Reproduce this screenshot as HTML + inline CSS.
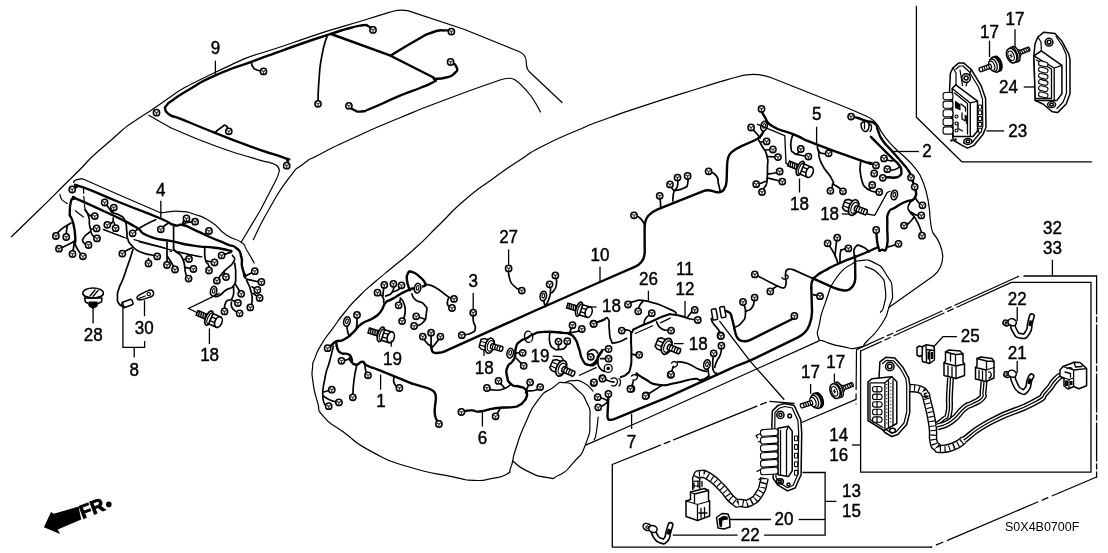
<!DOCTYPE html>
<html><head><meta charset="utf-8"><title>Wire Harness</title>
<style>
html,body{margin:0;padding:0;background:#fff;}
body{width:1108px;height:553px;overflow:hidden;font-family:"Liberation Sans",sans-serif;}
svg{display:block;}
.b{fill:none;stroke:#000;stroke-width:1.2;stroke-linecap:round;stroke-linejoin:round;}
.b2{fill:none;stroke:#000;stroke-width:1.3;stroke-linecap:round;stroke-linejoin:round;}
.h{fill:none;stroke:#000;stroke-width:2.4;stroke-linecap:round;stroke-linejoin:round;}
.m{fill:none;stroke:#000;stroke-width:2;stroke-linecap:round;stroke-linejoin:round;}
.w{fill:none;stroke:#000;stroke-width:1.7;stroke-linecap:round;stroke-linejoin:round;}
.l{fill:none;stroke:#000;stroke-width:1.3;}
.dd{fill:none;stroke:#000;stroke-width:1;stroke-dasharray:38 4 6 4;}
.f{fill:#fff;stroke:#000;stroke-width:1.1;stroke-linejoin:round;}
.fw{fill:#fff;stroke:#000;stroke-width:1.5;stroke-linejoin:round;}
.k{fill:#000;stroke:none;}
.t{filter:url(#gs);}
.t{font-family:"Liberation Sans",sans-serif;fill:#000;text-anchor:middle;stroke:#000;stroke-width:0.45px;}
</style></head><body>
<svg width="1108" height="553" viewBox="0 0 1108 553">
<defs><filter id="gs" x="0" y="0" width="1108" height="553" filterUnits="userSpaceOnUse" color-interpolation-filters="sRGB"><feOffset dx="0" dy="0"/></filter>
<g id="c"><circle r="3.15" fill="#fff" stroke="#000" stroke-width="1.5"/><path d="M0 0.3V2.7M0 0.3L-2.2 -1.4M0 0.3L2.2 -1.4" stroke="#333" stroke-width="1.15" fill="none"/></g>
<g id="bolt"><path d="M-19 -2.500L-9 -2.500L-9 2.500L-19 2.500Z" fill="#fff" stroke="#000" stroke-width="1.500"/><path d="M-17.500 -2.500L-16.500 2.500M-15.300 -2.500L-14.300 2.500M-13.100 -2.500L-12.100 2.500M-10.900 -2.500L-9.900 2.500" stroke="#000" stroke-width="1.400" fill="none"/><ellipse cx="-6.500" cy="0" rx="3.100" ry="7.400" fill="#fff" stroke="#000" stroke-width="1.700"/><ellipse cx="-5.300" cy="0" rx="2.300" ry="5.600" fill="#fff" stroke="#000" stroke-width="1.100"/><path d="M-4.500 -5.400L3.500 -5.400L3.500 5.400L-4.500 5.400Z" fill="#fff" stroke="#000" stroke-width="1.600"/><path d="M-4 -2L2 -2M-4 2L2 2" stroke="#000" stroke-width="1.300"/><ellipse cx="3.500" cy="0" rx="3.400" ry="5.400" fill="#fff" stroke="#000" stroke-width="1.600"/></g>
<g id="boltb"><path d="M-11 -3.500L-8.500 -5.200L-3 -5.200L-3 5.200L-8.500 5.200L-11 3.500Z" fill="#fff" stroke="#000" stroke-width="1.400"/><path d="M-10.500 -1.800L-3 -1.800M-10.500 1.800L-3 1.800" stroke="#000" stroke-width="1.100"/><ellipse cx="-1.500" cy="0" rx="4.200" ry="7.300" fill="#fff" stroke="#000" stroke-width="1.500"/><ellipse cx="-0.800" cy="0" rx="2.900" ry="5.200" fill="#fff" stroke="#000" stroke-width="1.100"/><path d="M0 -2.400L10.500 -2.400Q12 0 10.500 2.400L0 2.400Q-1.500 0 0 -2.400Z" fill="#fff" stroke="#000" stroke-width="1.300"/><path d="M1.800 -2.400Q0.600 0 1.800 2.400M4.100 -2.400Q2.900 0 4.100 2.400M6.400 -2.400Q5.200 0 6.400 2.400M8.700 -2.400Q7.500 0 8.700 2.400" stroke="#000" stroke-width="1.200" fill="none"/></g>
<g id="scr"><path d="M6 -2L17.500 -2Q18.800 0 17.500 2L6 2Z" fill="#fff" stroke="#000" stroke-width="1.300"/><path d="M9.500 -2L10.500 2M11.800 -2L12.800 2M14.100 -2L15.100 2M16.200 -2L17 2" stroke="#000" stroke-width="1.200"/><path d="M3 -6.500L8 -2.500L8 2.500L3 6.500Z" fill="#fff" stroke="#000" stroke-width="1.200"/><ellipse cx="3.200" cy="0" rx="3.300" ry="8" fill="#fff" stroke="#000" stroke-width="1.500"/><ellipse cx="1.200" cy="0" rx="3.300" ry="8" fill="#fff" stroke="#000" stroke-width="1.300"/><ellipse cx="-1.200" cy="0" rx="4.800" ry="7.600" fill="#fff" stroke="#000" stroke-width="1.600"/><ellipse cx="-1.800" cy="0" rx="2.800" ry="5" fill="#fff" stroke="#000" stroke-width="1"/><path d="M-3.300 -1.200L-0.500 1.200M-2.500 2L-1.200 -2" stroke="#000" stroke-width="1"/></g>
<g id="scrf"><ellipse cx="-3.800" cy="0" rx="4.500" ry="7.800" fill="#111" stroke="#000" stroke-width="1.400"/><ellipse cx="-1.500" cy="0" rx="4.500" ry="7.800" fill="#fff" stroke="#000" stroke-width="1.500"/><ellipse cx="0.500" cy="0" rx="3.800" ry="6.500" fill="#fff" stroke="#000" stroke-width="1.300"/><ellipse cx="2" cy="0" rx="2.800" ry="4.800" fill="#fff" stroke="#000" stroke-width="1.200"/><path d="M3 -2.100L14.500 -2.100Q16 0 14.500 2.100L3 2.100Q1.800 0 3 -2.100Z" fill="#fff" stroke="#000" stroke-width="1.300"/><path d="M5.200 -2.100Q4.200 0 5.200 2.100M7.500 -2.100Q6.500 0 7.500 2.100M9.800 -2.100Q8.800 0 9.800 2.100M12.100 -2.100Q11.100 0 12.100 2.100" stroke="#000" stroke-width="1.200" fill="none"/></g>
<g id="o"><ellipse rx="3.2" ry="4.9" fill="#fff" stroke="#000" stroke-width="1.5" transform="rotate(12)"/><ellipse rx="1.3" ry="2.4" cy="-0.3" fill="none" stroke="#000" stroke-width="1.1" transform="rotate(12)"/></g>
</defs>
<rect width="1108" height="553" fill="#fff"/>
<path class="b" d="M11.4 236.7 C20.9 227.5 19.3 229.2 40 209 C60.7 188.8 51.3 197.6 73.4 176 C95.5 154.4 81 165.8 106.3 144.3 C131.6 122.8 112.8 135.5 149.4 111.4 C186 87.3 168.5 94.8 216 72 C263.5 49.2 241.4 60.7 292 43 C342.6 25.3 334.1 29.6 367.8 19 C401.5 8.4 384.6 13.9 393 11.3 Q400 9.200 407.600 10.600 L463.300 29 L519.500 51.800 Q525.500 54.500 526.200 60.500 L526.600 66 Q527 70 531 73.300 L562 102.500"/>
<path class="b" d="M253.3 239.7 C258.4 229.8 256.9 230.3 268.6 210 C280.3 189.7 277 194 288.5 178.7 C300 163.4 292.5 172.3 303 164.2 C313.5 156.1 304.3 162.5 320 154.3 C335.7 146.1 323.3 151.7 350 139.5 C376.7 127.3 366.7 131.5 400 117.7 C433.3 103.9 416.7 110.6 450 98 C483.3 85.4 483.3 86 500 80 Q509 76.800 514.500 79.500 Q521 83.500 531 96 Q536.500 104 540.500 112"/>
<path class="b" d="M148.9 115.2 C154.3 118.3 154.6 119 165 124.5 C175.4 130 162.9 124.5 180 131.7 C197.1 138.9 192.1 137.5 216.2 146.2 C240.3 154.9 234.4 152.4 252.3 157.9 C270.2 163.4 264.1 161.1 270 162.7 Q279.500 165 279.300 171 Q278.500 175.500 275 182 L260.500 210 L241.300 242"/>
<path class="b" d="M73.500 182.500 Q74 180.300 77 179.700 L82.500 178.700 L120 195.300 L159.300 212.300 Q163 213 166.600 212"/>
<path class="b" d="M166.6 212 C171.1 211.8 171.1 210.6 180 211.3 C188.9 212 183.1 210.5 193.4 214 C203.7 217.5 199.9 214.8 210.8 221.7 C221.7 228.6 215.9 227.8 226 234.7 C236.1 241.6 234.3 237.2 241.2 242.3 C248.1 247.4 242.3 243.1 246.6 250 C250.9 256.9 251.7 258.7 254.2 263"/>
<path class="b" d="M59.9 194.4 C60.4 195.9 60 196.6 61.5 199 C63 201.4 62.5 200.1 64.4 201.6 C66.3 203.1 66.3 202.9 67.3 203.5"/>
<path class="b" d="M104 230 L127 238.5"/>
<path class="b" d="M139 242 L200 257"/>
<path class="b" d="M512.8 460.5 C512 463 512.7 463.3 510.5 467.9 C508.3 472.5 512.7 470.8 506.2 474.4 C499.7 478 501.9 476.7 491 478.7 C480.1 480.7 486.6 481 473.6 480.3 C460.6 479.6 473.6 481.1 451.9 476.6 C430.2 472.1 435.3 475.1 408.5 466.8 C381.7 458.5 393.3 463.2 371.6 451.6 C349.9 440 359.3 443.6 343.4 432 C327.5 420.4 332.6 427 323.9 416.9 C315.2 406.8 321 413.3 317.4 401.7 C313.8 390.1 314.6 393.2 313 382 C311.4 370.8 311.8 376 312.5 368 C313.2 360 311.8 366.1 315 357.9 C318.2 349.7 316.2 353.2 322 343.5 C327.8 333.8 324.7 339.4 332.4 328.9 C340.1 318.4 336 323 345 312 C354 301 349.2 306.3 359.5 296 C369.8 285.7 364.1 291.3 376 281 C387.9 270.7 381.7 276.4 395.3 265 C408.9 253.6 401.8 260.5 416.7 246.8 C431.6 233.1 424 239.6 440 224 C456 208.4 447.3 215 464.8 200 C482.3 185 474.1 192.3 492.5 179 C510.9 165.7 503.2 171 520 160 C536.8 149 523.7 156 543 146 C562.3 136 555.7 139.5 578 130 C600.3 120.5 587.9 125.6 610 117.5 C632.1 109.4 614.4 115.4 644.4 105.6 C674.4 95.8 669.8 97.4 700 88 C730.2 78.6 723.3 81 735 77.5 Q754 71 772 78 L850 109 L866 116 Q874 119.500 878 125.500 Q883 137 897.500 150.800 Q913 163.500 920 175 Q927.500 190 929.500 210 Q930.500 228 933 233 Q941.500 243 942.800 255.900 Q942.500 268 934 275.500 Q912 291 888.800 307.600"/>
<path class="b" d="M512.8 460.5 C513.9 456.4 511.8 460.6 516 448.2 C520.2 435.8 518.1 439.1 525.4 423.2 C532.7 407.3 528.8 412.2 537.8 400.4 C546.8 388.6 543.4 393.8 552.4 387.9 C561.4 382 556.6 382 564.9 382.7 C573.2 383.4 570.1 383.4 577.4 390 C584.7 396.6 582.5 392.7 586.7 402.4 C590.9 412.1 590.2 405.2 589.9 419.1 C589.6 433 591.3 429.4 585.7 444 C580.1 458.6 582.2 452.4 573.2 462.8 C564.2 473.2 567.6 470.5 558.6 475.3 C549.6 480.1 556.6 478.7 546.2 477.3 C535.8 475.9 538.4 476.4 527.4 471.1 C516.4 465.8 518 464.7 513.3 461.5"/>
<path class="b" d="M564.9 382.7 C567.7 382 567 380.6 573.2 380.6 C579.4 380.6 577 379.2 583.6 382.7 C590.2 386.2 589.9 388.2 593 391"/>
<path class="b" d="M598.2 417 C597.5 422.5 597.5 426 596.1 433.6 C594.7 441.2 594.7 437.8 594 439.9"/>
<path class="b" d="M585.7 445.1 L640 421.5 L819 340.9"/>
<path class="b" d="M853.5 262.9 C855.8 262.1 853.5 260.6 860.5 260.6 C867.5 260.6 866 258.2 874.6 262.9 C883.2 267.6 880.5 265.3 886.4 274.7 C892.3 284.1 891.5 280.1 892.3 291.1 C893.1 302.1 892.3 296.6 888.8 307.6 C885.3 318.6 888.8 313 881.7 324 C874.6 335 875.4 332.6 867.6 340.5 C859.8 348.4 866.8 345.6 858.2 347.6 C849.6 349.6 852.7 348.4 841.7 346.4 C830.7 344.4 833.1 344.8 825.3 341.7 C817.5 338.6 820.2 342.9 818.2 337 C816.2 331.1 817 335.4 819.4 324 C821.8 312.6 819.4 318.6 825.3 302.9 C831.2 287.2 827.6 290.3 837 277 C846.4 263.7 848 267.6 853.5 262.9"/>
<path class="b" d="M865.2 266.4 C869.9 269.2 872.6 267.2 879.3 274.7 C886 282.2 883.6 278.6 885.2 288.8 C886.8 299 885.6 297.4 884 305.2 C882.4 313 881.7 309.9 880.5 312.3"/>
<path class="h" d="M373 29.9 C371.3 28.6 371.4 27.5 368 26 C364.6 24.5 368.8 24.6 362.8 25.3 C356.8 26 360.9 25 350 28 C339.1 31 349.3 27.9 330 34.2 C310.7 40.5 317.3 38.1 292 47 C266.7 55.9 279.3 51.4 254 60.8 C228.7 70.2 237.3 65.8 216 75.2 C194.7 84.6 204.3 80.7 190 89 C175.7 97.3 180.8 94.5 173 100 C165.2 105.5 169.1 102.5 166.5 105.5 C163.9 108.5 165 106.4 165.3 108.9 C165.6 111.4 164.9 110.5 167.5 113 C170.1 115.5 168.8 114.6 173 116.5 C177.2 118.4 166.2 113.2 180 118.6 C193.8 124 190.3 123.1 214.4 132.6 C238.5 142.1 229.4 138.8 252.3 147.1 C275.2 155.4 271.4 153.1 283.1 157.4 C294.8 161.7 286.1 157.2 287.3 160 C288.5 162.8 286.9 163.8 286.7 165.7"/>
<path class="w" d="M251.4 62 C251.9 63.7 251.1 64.3 253 67 C254.9 69.7 253.5 68.5 257 70 C260.5 71.5 261.3 70.9 263.5 71.4"/>
<path class="w" d="M327.3 35.4 C325.5 41.9 324.8 40.1 322 55 C319.2 69.9 320.3 63.7 319 80 C317.7 96.3 318.3 95.9 318 103.8"/>
<path class="h" d="M331 34 L390.6 55.7 L433 77.2"/>
<path class="h" d="M390.6 55.7 C398.7 50.8 401.2 48.7 415 41 C428.8 33.3 422 36 432 32.5 C442 29 438.5 30.7 445 30.4 C451.5 30.1 449.3 31.2 451.4 31.6"/>
<path class="h" d="M433 77.2 C433.7 78.1 435 78.3 435 80 C435 81.7 438 79.6 433 82.3 C428 85 431 83.5 420 88 C409 92.5 416 89 400 95.7 C384 102.4 384.7 102.8 372 108 C359.3 113.2 368 110.7 362 111.4 C356 112.1 358.4 111.9 354 110 C349.6 108.1 350.6 107.2 348.9 105.8"/>
<path class="h" d="M434 79 C438 78.5 439.2 79.4 446 77.5 C452.8 75.6 450.9 76.9 454.4 73.4 C457.9 69.9 457.8 70.8 456.5 67 C455.2 63.2 452.6 63.7 450.6 62"/>
<path class="w" d="M214.8 132.5 C217.1 130.7 217.9 129.5 221.6 127.2 C225.3 124.9 223.6 124.3 226 125.7 C228.4 127.1 227.9 129.4 228.8 131.3"/>
<use href="#c" x="373" y="29.9"/>
<use href="#c" x="263.5" y="71.4"/>
<use href="#c" x="318" y="103.8"/>
<use href="#c" x="348.9" y="105.8"/>
<use href="#c" x="451.4" y="31.6"/>
<use href="#c" x="450.6" y="62"/>
<use href="#c" x="156.5" y="112.7"/>
<use href="#c" x="228.8" y="131.3"/>
<use href="#c" x="286.7" y="165.7"/>
<path class="h" d="M72.2 189.5 C73.5 188.7 72.8 188 76.2 187.2 C79.6 186.4 67.9 182.1 82.5 187.2 C97.1 192.3 94.4 192.2 120 202.5 C145.6 212.8 141.3 210.5 159.3 218 C177.3 225.5 166.1 222.7 173.9 225 C181.7 227.3 176.1 223.6 182.6 225 C189.1 226.4 184.7 225.5 193.4 229.3 C202.1 233.1 197.7 231.7 208.6 236.5 C219.5 241.3 216.7 239.9 226 243.8 C235.3 247.7 231.4 244 236.5 248.2 C241.6 252.4 239.3 250 241.2 256.4 C243.1 262.8 240.8 260.8 242.2 267.3 C243.6 273.8 244.4 273.1 245.5 276"/>
<path class="h" d="M69.8 215.2 C70.1 211 69.2 208 70.7 202.5 C72.2 197 71.7 199.5 74.4 198.6 C77.1 197.7 67 194.7 78.9 199.8 C90.8 204.9 91.6 205.3 110 214 C128.4 222.7 121.2 218.7 134 226 C146.8 233.3 135.9 230.9 148.5 236 C161.1 241.1 156.7 238 171.7 241.2 C186.7 244.4 179 243.4 193.4 245.6 C207.8 247.8 202.3 246 215 247.8 C227.7 249.6 225.9 249.9 231.4 251"/>
<path class="h" d="M69.8 215.2 C71 218.2 71.7 216.4 73.5 224.2 C75.3 232 75 232.7 75.3 238.7 C75.6 244.7 74.7 241.1 74.4 242.3"/>
<path class="w" d="M74.4 242.3 C74.1 244.2 74.1 244.1 73.5 248 C72.9 251.9 72.8 252 72.5 254"/>
<path class="w" d="M74.4 242.3 C75.6 244.9 75.2 245.3 78 250 C80.8 254.7 81.3 254.2 82.9 256.3"/>
<path class="w" d="M74.8 241 C71.6 242.7 70.6 243.4 65.3 246 C60 248.6 61.1 247.8 59 248.7"/>
<path class="w" d="M71 223 C67.6 225.2 65.8 225.4 60.8 229.7 C55.8 234 57.5 233.9 55.9 236"/>
<path class="w" d="M67.5 225.5 C67.2 227.3 66.9 227.2 66.5 231 C66.1 234.8 66.3 235 66.2 237"/>
<path class="b" stroke-dasharray="5 3" d="M83.4 188 C84 197 84 204 85.2 209.8"/>
<path class="b" d="M75.3 210.7 L83.4 217"/>
<path class="w" d="M85.2 209.8 C86.7 211.6 86.5 213.1 89.7 215.2 C92.9 217.3 93.1 215.8 94.8 216.1"/>
<path class="w" d="M85.2 209.8 C86.4 212.2 87.3 211.6 88.8 217 C90.3 222.4 88.6 222 89.7 226 C90.8 230 89.7 228.2 92 229 C94.3 229.8 95.1 228.6 96.6 228.4"/>
<path class="w" d="M90.6 229.7 C91.2 231.5 90.3 232.2 92.4 235.1 C94.5 238 95.5 237.3 97 238.4"/>
<path class="w" d="M90 232 C88.1 233.6 86.5 233.5 84.3 236.9 C82.1 240.3 82 239.6 83.4 242.3 C84.8 245 86.8 244.1 88.5 245"/>
<path class="w" d="M104.7 202.5 C106.3 204.6 107.1 205.6 109.6 208.9 C112.1 212.2 109 210.4 112.3 212.5 C115.6 214.6 115.4 212.5 119.6 215.2 C123.8 217.9 122.6 215.2 125 220.6 C127.4 226 125.9 225.5 126.8 231.5 C127.7 237.5 125.9 233.9 127.7 238.7 C129.5 243.5 127.7 241.5 132.2 246 C136.7 250.5 134.7 249.3 141.3 252.3 C147.9 255.3 146.7 253.6 152 255 C157.3 256.4 155.5 255.9 157.2 256.4"/>
<path class="w" d="M113.8 207.6 L112.3 212.5"/>
<path class="w" d="M113.2 218 C112.9 219.5 114.3 220.1 112.3 222.4 C110.3 224.7 109 224 107.3 224.8"/>
<path class="w" d="M114.1 222.4 L115.6 228.2"/>
<path class="w" d="M148.5 258.6 L148.5 263.5"/>
<path class="w" d="M132.2 247.8 C129.8 249 128.3 249.4 125 251.4 C121.7 253.4 123.2 252.9 122.3 253.7"/>
<path class="w" d="M133 249.6 C131.8 253.2 131.6 254.3 129.5 260.4 C127.4 266.5 129 261.8 126.8 268 C124.6 274.2 125.7 271.9 123 279 C120.3 286.1 120.4 283.4 118.6 289.4 C116.8 295.4 117.5 292.5 117.5 297 C117.5 301.5 116.8 299.8 118.5 303 C120.2 306.2 121.2 305.3 122.5 306.5"/>
<path class="w" d="M132.6 233.3 C135.5 231.2 133.6 231.5 141.3 227 C149 222.5 150.9 222.1 155.7 219.7"/>
<path class="w" d="M160.8 229.3 C162.7 227.6 163.5 226.2 166.6 224.2 C169.7 222.2 169 223.6 170.2 223.3"/>
<path class="w" d="M173.6 224.5 L173.6 246.7"/>
<path class="w" d="M173.6 246.7 C174.1 248.1 172 247 175 251 C178 255 179 251 182.6 258.6 C186.2 266.2 183.8 267.1 185.8 273.8 C187.8 280.5 187.7 277 188.6 278.6"/>
<path class="w" d="M167 242.3 L167 255.4 L167 265"/>
<path class="w" d="M167.4 256.5 C168.6 258.3 168.5 257.7 171 262 C173.5 266.3 173.7 267 175 269.5"/>
<path class="w" d="M183.6 259.7 L189 259"/>
<path class="w" d="M184.7 267.3 L193.4 269"/>
<path class="w" d="M204.7 247.8 C204.9 251.8 204.1 253.9 205.4 259.7 C206.7 265.5 207.4 261.5 208.6 265.1 C209.8 268.7 208.9 268.7 209 270.5"/>
<path class="w" d="M206 260.8 L214.5 262.5"/>
<path class="w" d="M221.6 255.4 L231.4 252.1"/>
<path class="w" d="M232.5 255.4 C232.9 257.6 236.5 256.5 233.6 261.9 C230.7 267.3 229.4 265.3 223.8 271.6 C218.2 277.9 219.2 277.7 216.9 280.7"/>
<path class="w" d="M223.8 271.6 L226 277"/>
<path class="w" d="M234.7 263 C235 267.3 236.1 268.4 235.7 276 C235.3 283.6 236.8 281 233.6 285.7 C230.4 290.4 230.7 286.7 226 290 C221.3 293.3 223.3 293.3 219.5 295.5 C215.7 297.7 216.2 296.2 214.5 296.5"/>
<path class="w" d="M233.6 286.8 C233.2 290.4 235 292.6 232.5 297.7 C230 302.8 228.7 297.4 226 302 C223.3 306.6 225 308.3 224.5 311.4"/>
<path class="w" d="M231.4 299.8 L237.9 303"/>
<path class="w" d="M231.4 302 C231.8 304.2 229.8 304.7 232.5 308.5 C235.2 312.3 237.2 311.7 239.6 313.3"/>
<path class="w" d="M235.7 284.6 L241.2 293.8"/>
<path class="w" d="M245.5 276 L254.8 271.2"/>
<path class="w" d="M243.5 273.5 C244.2 275 242.7 275.7 245.5 278 C248.3 280.3 246.7 279 252 280.3 C257.3 281.6 258.3 281.4 261.4 282"/>
<path class="w" d="M246.6 280.3 C248.1 283.9 249.2 284 251 291.2 C252.8 298.4 252.2 296.6 252 302 C251.8 307.4 250.9 305.6 250.3 307.4"/>
<path class="w" d="M252 286.8 L257.4 290"/>
<path class="w" d="M253.1 293.3 L259.6 298"/>
<path class="w" d="M186.5 218.5 C185.5 219.5 184.8 219.3 183.5 221.5 C182.2 223.7 182.9 223.8 182.6 225"/>
<path class="w" d="M195.1 221.7 C192.4 222 191.2 221.4 187 222.5 C182.8 223.6 184.1 224.2 182.6 225"/>
<path class="w" d="M209 231 C208.2 231.7 208.2 232 206.5 233 C204.8 234 204.8 233.7 204 234"/>
<path class="b" d="M103.3 229.3 L123.2 237"/>
<path class="b" d="M134 239.6 L164.8 247.8"/>
<path class="b" d="M169.5 251 L171.5 251.4"/>
<path class="b" d="M178.2 252.5 L202 256.9"/>
<path class="l" d="M219.5 293.3 L188.6 308.5 L200 314"/>
<use href="#c" x="72.2" y="189.5"/>
<use href="#c" x="104.7" y="202.5"/>
<use href="#c" x="113.8" y="207.6"/>
<use href="#c" x="94.8" y="216.1"/>
<use href="#c" x="107.3" y="224.8"/>
<use href="#c" x="115.6" y="228.2"/>
<use href="#c" x="96.6" y="228.4"/>
<use href="#c" x="97" y="238.4"/>
<use href="#c" x="88.5" y="245"/>
<use href="#c" x="55.9" y="236"/>
<use href="#c" x="66.2" y="237"/>
<use href="#c" x="59" y="248.7"/>
<use href="#c" x="72.5" y="254"/>
<use href="#c" x="82.9" y="256.3"/>
<use href="#c" x="132.6" y="233.3"/>
<use href="#c" x="160.8" y="229.3"/>
<use href="#c" x="186.5" y="218.5"/>
<use href="#c" x="195.1" y="221.7"/>
<use href="#c" x="209" y="231"/>
<use href="#c" x="122.3" y="253.7"/>
<use href="#c" x="157.2" y="256.4"/>
<use href="#c" x="148.5" y="263.5"/>
<use href="#c" x="167" y="265"/>
<use href="#c" x="175" y="269.5"/>
<use href="#c" x="189" y="259"/>
<use href="#c" x="193.4" y="269"/>
<use href="#c" x="188.6" y="278.6"/>
<use href="#c" x="221.6" y="255.4"/>
<use href="#c" x="214.5" y="262.5"/>
<use href="#c" x="209" y="270.5"/>
<use href="#c" x="226" y="277"/>
<use href="#c" x="216.9" y="280.7"/>
<use href="#c" x="254.8" y="271.2"/>
<use href="#c" x="261.4" y="282"/>
<use href="#c" x="257.4" y="290"/>
<use href="#c" x="259.6" y="298"/>
<use href="#c" x="250.3" y="307.4"/>
<use href="#c" x="241.2" y="293.8"/>
<use href="#c" x="237.9" y="303"/>
<use href="#c" x="239.6" y="313.3"/>
<use href="#c" x="224.5" y="311.4"/>
<use href="#o" x="213.6" y="291.2"/>
<path class="h" d="M417.6 287.3 C413.7 288.6 414.4 287.2 406 291.1 C397.6 295 399.2 295 392.4 298.9 C385.6 302.8 389.5 298.5 385.6 302.7 C381.7 306.9 385 306.2 380.8 311.4 C376.6 316.6 379.5 314 373 318.2 C366.5 322.4 367.8 319.5 361.4 324 C355 328.5 359.5 326.6 353.7 331.8 C347.9 337 349.8 336.3 344 339.5 C338.2 342.7 340.5 339.5 336.3 341.4 C332.1 343.3 334.4 343 331.5 345.3 C328.6 347.6 328.9 347.2 327.6 348.2"/>
<path class="w" d="M383.7 302.7 C383.4 300.8 384.8 300.2 382.7 296.9 C380.6 293.6 379.2 294.1 377.5 292.7"/>
<path class="w" d="M382.9 296 C383.1 294 383 293.7 383.5 290 C384 286.3 384 286.6 384.3 284.9"/>
<path class="w" d="M385.6 296 C387.9 294.7 389.8 296.1 392.4 292 C395 287.9 393.1 286.5 393.4 283.8"/>
<path class="w" d="M392.4 292 C394.4 291.2 395.5 291.7 398.5 289.5 C401.5 287.3 400.5 286.7 401.5 285.3"/>
<path class="w" d="M400.2 297.9 C401.5 299.8 402.4 298.5 404 303.7 C405.6 308.9 405.6 307.6 405 313.4 C404.4 319.2 403.1 318.5 402.1 321.1"/>
<path class="w" d="M400.2 299.8 L398.6 305.3"/>
<path class="h" d="M409.8 290.2 C408.9 287 407.6 286 407 280.5 C406.4 275 406.3 276.6 407.9 273.7 C409.5 270.8 407.9 270.8 411.8 271.8 C415.7 272.8 415 272.7 419.5 276.6 C424 280.5 424.1 280.1 425.3 283.4 C426.5 286.7 423.8 285.5 423 286.5"/>
<path class="w" d="M425.3 284.4 C428.5 285.4 427.3 283.1 435 287.3 C442.7 291.5 442.2 293 448.5 296.9 C454.8 300.8 452.2 298.2 454 298.9"/>
<path class="w" d="M448.5 298 C448.2 300.2 446.4 301.4 447.6 304.7 C448.8 308 450.5 306.9 452 308"/>
<path class="w" d="M411.8 294 C413.1 295.9 411.4 296.2 415.6 299.8 C419.8 303.4 420.8 300.2 424.4 304.7 C428 309.2 427 307.3 426.3 313.4 C425.6 319.5 426.5 318.8 422.4 323 C418.3 327.2 416.9 325 414.1 326"/>
<path class="w" d="M424.5 319 L416.2 316.3"/>
<path class="w" d="M346.9 325 C347.2 327.6 346.9 329 347.9 332.7 C348.9 336.4 349.3 334.9 350 336"/>
<path class="w" d="M357 318 C356.9 321 357.4 322.7 356.6 327 C355.8 331.3 355.2 329.7 354.5 331"/>
<use href="#o" x="346.9" y="321.5"/>
<use href="#o" x="417.6" y="288.2"/>
<path class="h" d="M336.3 341.4 C336.6 343.7 335.7 344.3 337.3 348.2 C338.9 352.1 337.6 351.1 341.1 353 C344.6 354.9 344.7 352.7 347.9 354 C351.1 355.3 349.4 354.6 350.8 356.9 C352.2 359.2 351.6 359.6 352 361"/>
<path class="w" d="M350.8 356.9 C349.5 357.9 350.1 358.5 347 359.8 C343.9 361.1 343.3 360.5 341.5 360.8"/>
<path class="h" d="M349.8 359.8 C351.7 361.4 351.4 364 355.6 364.7 C359.8 365.4 358.5 361.5 362.4 361.8 C366.3 362.1 361.1 362.6 367.3 365.6 C373.5 368.6 366.3 364.9 381 370.8 C395.7 376.7 401.3 379.2 411.5 383.4"/>
<path class="h" d="M411.5 383.4 L427.6 388.2 Q430.5 389 432.9 390.8 L433.5 391.2 Q436.5 393.5 435.7 400.5 L434.9 407.1 Q434 415 436.4 419.5 L438.9 424"/>
<path class="w" d="M333.4 346.3 C332.1 351.5 332.3 351.2 329.5 361.8 C326.7 372.4 327.2 365.7 325 378 C322.8 390.3 321.8 389.2 323 398.6 C324.2 408 326.8 403.7 328.7 406.2"/>
<path class="w" d="M323.5 392 L331.8 389.7"/>
<path class="w" d="M323.2 396 C325.5 397.3 324.8 397.9 330 400 C335.2 402.1 335.9 401.6 338.9 402.4"/>
<path class="w" d="M357 364.4 C356 369.6 355.4 369 354 380 C352.6 391 353.2 391.5 352.8 397.3"/>
<path class="w" d="M364.7 363 C365.1 366 364.9 367.9 366 372 C367.1 376.1 367.3 374.2 368 375.3"/>
<path class="w" d="M393.8 377.6 C394 379.7 392.6 380.5 394.5 384 C396.4 387.5 397.8 386.7 399.4 388"/>
<path class="w" d="M473.2 312.7 C473.3 315.6 472.7 316.2 473.4 321.3 C474.1 326.4 475.9 324.1 475.3 328 C474.7 331.9 476 330.5 471.5 332.9 C467 335.3 465 334.4 461.8 335.2"/>
<path class="w" d="M508.6 268.4 C508.9 271.6 507.7 272.1 509.5 278 C511.3 283.9 509.9 281.8 514 286 C518.1 290.2 519.2 289.1 521.8 290.6"/>
<path class="w" d="M422.8 336.6 C424 338.5 423.5 339.2 426.3 342.4 C429.1 345.6 429.5 345 431.1 346.3"/>
<path class="w" d="M431.1 332.7 L431.1 346.3"/>
<path class="w" d="M440.4 336.6 C438.6 339.2 438.1 340.4 435 344.3 C431.9 348.2 432.4 346.9 431.1 348.2"/>
<path class="h" d="M431.1 345 L431.6 349.2 Q432 353.5 437 353 L439 352.8 Q442 352.5 444.7 351.3 L535.4 310.5 Q540 308.5 544.6 306.5 L595.4 284 Q600 282 604.6 280 L634.7 266.9 Q644.8 262.5 644.7 251.5 L644.6 229 Q644.6 220 648.3 215.8 L648.3 215.8 Q652 211.5 657.6 209.3 L702.7 191.3 Q707.3 189.5 712.1 190.9 L715.2 191.8 Q721 193.5 723.8 189.8 L723.8 189.8 Q726.5 186 726.6 181 L727.1 165 Q727.3 156 731.6 152.2 L731.6 152.2 Q736 148.5 741.5 146.1 L754.3 140.5 Q758 138.9 760.7 136 L760.8 135.9 Q763.5 133 763.8 129.6 L764 126.2"/>
<path class="w" d="M543.3 299 C543.7 300.7 543.8 301.5 544.5 304 C545.2 306.5 545.2 305.7 545.5 306.5"/>
<path class="w" d="M549.6 284.3 C549.9 286.9 550.9 286.8 550.5 292 C550.1 297.2 550 295.7 548.5 300 C547 304.3 546.8 303.3 546 305"/>
<path class="w" d="M555.4 275.4 C555.8 278.3 557.1 278.8 556.5 284 C555.9 289.2 555.5 288 553.5 291 C551.5 294 551.5 292.3 550.5 293"/>
<use href="#o" x="543.3" y="296"/>
<path class="w" d="M634 215.3 C636 216.2 636.6 215.1 640 218 C643.4 220.9 642.8 222 644.2 224"/>
<path class="w" d="M659.7 195.8 C660 198.2 660.2 199.1 660.5 203 C660.8 206.9 660.5 206 660.5 207.5"/>
<path class="w" d="M670 184.4 C670.8 185.9 671 186.9 672.5 189 C674 191.1 673.8 190.2 674.4 190.8"/>
<path class="w" d="M677.5 177.6 C677.5 180.4 678.5 181.6 677.5 186 C676.5 190.4 675.9 187.1 674.4 190.8 C672.9 194.5 673.5 193.6 673 197 C672.5 200.4 673 199.7 673 201"/>
<path class="w" d="M687.6 176 C687.6 178.7 688.8 180 687.6 184 C686.4 188 688.4 185.7 684 188 C679.6 190.3 677.6 189.9 674.4 190.8"/>
<path class="w" d="M708.6 171.3 C711.1 172.7 712.9 171.4 716.2 175.6 C719.5 179.8 717.2 179 718.5 184 C719.8 189 719.5 188.3 720 190.5"/>
<path class="h" d="M461 412.1 C464.5 411.5 465 410.6 471.4 410.4 C477.8 410.2 472.1 412.2 480.1 411.5 C488.1 410.8 484.4 409.7 495.3 408.2 C506.2 406.7 504.6 408.2 512.7 407.1 C520.8 406 515.9 406.8 519.5 405 C523.1 403.2 521.2 404.2 523.5 401.7 C525.8 399.2 525.2 400.4 526.3 397.5 C527.4 394.6 527.4 395.9 526.8 393 C526.2 390.1 527.2 390.9 524.6 388.7 C522 386.5 523.4 388 518.9 386.5 C514.4 385 515.1 387.9 511.1 384.2 C507.1 380.5 508.1 381.3 506.9 375.5 C505.7 369.7 505.9 371.3 507.6 366.8 C509.3 362.3 509.6 365.5 512.1 361.9 C514.6 358.3 513.7 360.9 515 356.1 C516.3 351.3 514.4 352.2 516 347.4 C517.6 342.6 515.9 344.8 519.8 341.6 C523.7 338.4 523.4 340 527.6 337.7 C531.8 335.4 526.9 336.7 532.4 334.8 C537.9 332.9 533.7 332.5 544 331.9 C554.3 331.3 555 332.2 563.4 332.9 C571.8 333.6 565.3 332 569.2 333.9 C573.1 335.8 571.8 333.9 575 338.7 C578.2 343.5 576.3 341.3 578.9 348.4 C581.5 355.5 579.5 354.5 582.7 360 C585.9 365.5 584 363.8 588.5 364.8 C593 365.8 593.1 365.8 596.3 362.9 C599.5 360 596.3 360 598.2 356.1 C600.1 352.2 600.7 352.9 602 351.3"/>
<path class="w" d="M500 408.7 C499.2 410.1 499 410.5 497.5 413 C496 415.5 496.2 415.2 495.6 416.3"/>
<path class="w" d="M515.5 353 L522.7 352.8"/>
<path class="w" d="M516 358 C517.3 359.3 517.2 359.3 519.8 361.9 C522.4 364.5 522.4 364.5 523.7 365.8"/>
<path class="w" d="M511.1 384.2 C508.5 385.8 509.2 387.1 503.4 389 C497.6 390.9 499.2 390.3 493.7 390 C488.2 389.7 489.2 388.7 486.9 388"/>
<path class="w" d="M504.4 388 C503.1 386.4 502.5 385.6 500.5 383.2 C498.5 380.8 499.2 381.7 498.5 380.9"/>
<path class="w" d="M525.6 392.9 C526.3 391 526.1 390.6 527.6 387.1 C529.1 383.6 529.3 383.9 530.1 382.3"/>
<path class="w" d="M526.6 391 C529.8 390.7 531.8 391.3 536.3 390 C540.8 388.7 538.9 388.1 540.2 387.1"/>
<path class="w" d="M549.8 332.9 C549.8 336.1 548.5 337.4 549.8 342.6 C551.1 347.8 550.5 346.1 553.7 348.4 C556.9 350.7 555.6 349.7 559.5 349.4 C563.4 349.1 562.7 350.1 565.3 347.4 C567.9 344.7 566.6 343.3 567.3 341.2"/>
<path class="w" d="M558.5 348.4 L558.5 341.6"/>
<path class="w" d="M569.2 333.9 C569.8 332.3 570 331.9 571.1 329 C572.2 326.1 572 326.5 572.5 325.2"/>
<path class="w" d="M570.1 332.9 C573 332.3 575 332.3 578.9 331 C582.8 329.7 580.8 329.7 581.8 329"/>
<path class="w" d="M593.4 323.6 C595.6 322.9 596.1 322.9 600 321.5 C603.9 320.1 603.3 320.1 605 319.4"/>
<use href="#o" x="510.2" y="353.2"/>
<path class="b2" d="M530 331.500c-3.500-1.500-5.500 1-5.500 5s2.500 7 5.500 5.500M531 333c2 1 2.500 6 0.500 8"/>
<path class="w" d="M602 351.3 C600.2 354.1 600.3 355.3 596.6 359.7 C592.9 364.1 594.7 363.2 590.8 364.5 C586.9 365.8 586.9 363.8 585 363.5"/>
<path class="w" d="M597.6 352.9 C596.6 351.9 597.2 350.8 594.7 350 C592.2 349.2 592.4 349 590 350.5 C587.6 352 587.2 352.4 587.5 354.5 C587.8 356.6 589.7 356 590.8 356.8"/>
<path class="w" d="M597.6 361.6 C598.2 363.5 597.2 364.2 599.5 367.4 C601.8 370.6 601.5 371 604.4 371.3 C607.3 371.6 606.9 369.4 608.2 368.4"/>
<path class="w" d="M601.5 350 L608.6 349"/>
<path class="w" d="M600.5 358.7 L608.6 358.7"/>
<path class="l" d="M596.6 367.4 L578.9 375.5"/>
<circle cx="608.2" cy="368.4" r="4" fill="#fff" stroke="#000" stroke-width="1.3"/><circle cx="608.2" cy="368.4" r="1.8" fill="#000"/>
<path class="w" d="M602.4 378.1 C604.6 379.1 605.1 379.7 609 381 C612.9 382.3 612.3 381.7 614 382"/>
<path class="b2" d="M611 379c3-2 6.500-1 6.500 2.500s-3 5.500-6 4M619 378.500c2 1 2 6 0 7.500"/>
<path class="w" d="M628 304.5 C629.8 303.5 627.1 302.7 633.4 301.6 C639.7 300.5 634.6 298.6 646.9 301.2 C659.2 303.8 660.5 305.1 670.2 309.4 C679.9 313.7 674.1 312.6 676 314.2"/>
<path class="w" d="M643 301 C641.7 302.8 640.8 303.1 639.2 306.5 C637.6 309.9 638.5 309.7 638.2 311.3"/>
<path class="m" d="M684.7 317.1 C681.1 316.3 680.1 315.4 674 314.8 C667.9 314.2 673.4 313.1 666.3 315.2 C659.2 317.3 662.4 316.8 652.7 321 C643 325.2 644.1 324.2 637.3 327.7 C630.5 331.2 634.5 328 632.4 331.6 C630.3 335.2 631.4 331 631.1 338.4 C630.8 345.8 631.6 344.2 631.4 353.9 C631.2 363.6 632.1 360.6 630.5 367.4 C628.9 374.2 629.8 371 626.6 374.2 C623.4 377.4 622.7 376.1 620.8 377.1"/>
<path class="w" d="M684.7 317.1 C686.6 317.7 686.1 318 690.5 319 C694.9 320 695.4 319.7 697.8 320"/>
<path class="w" d="M687.6 317.1 C688.9 315.5 689 314.7 691.4 312.3 C693.8 309.9 693.6 310.7 694.7 309.9"/>
<path class="w" d="M644 323.9 C644.7 322 643.4 321.7 646 318.1 C648.6 314.5 649.9 314.8 651.8 313.2"/>
<path class="w" d="M656.6 322 C658.2 324.2 656.7 325.8 661.5 328.7 C666.3 331.6 667.9 330 671.1 330.6"/>
<path class="b" d="M635.3 333.5 L652.7 325.8"/>
<path class="b" d="M660.5 322.9 L670.2 318.1"/>
<path class="w" d="M621.8 330.6 C624 330.5 625.3 329.3 628.5 330.3 C631.7 331.3 630.4 332.4 631.4 333.5"/>
<path class="w" d="M593.7 323.9 C596.6 322.6 597.6 321.6 602.4 320 C607.2 318.4 605.9 316.1 608.2 319 C610.5 321.9 608.2 321.6 609.2 328.7 C610.2 335.8 608.8 335.7 611.1 340.3 C613.4 344.9 610.8 343.2 616 342.6 C621.2 342 623.1 339.8 626.6 338.4"/>
<path class="w" d="M631.4 353.9 C632.6 354.2 632.4 354.5 635 354.8 C637.6 355.1 637.8 354.8 639.2 354.8"/>
<path class="b2" d="M631.500 376c2-2 5.500-1.500 6 0.500s-2 4-4.500 3.500"/>
<path class="w" d="M631.4 388.7 C631.8 387.1 631.9 386.6 632.5 384 C633.1 381.4 633 382 633.3 381"/>
<path class="m" d="M636.3 373.2 C639.2 375.1 637.6 375.1 645 379 C652.4 382.9 648.2 383.5 658.5 384.8 C668.8 386.1 664.4 384.8 676 382.9 C687.6 381 685 380 693.4 379 C701.8 378 695.9 381 701.1 380 C706.3 379 706.3 377.4 708.9 376.1"/>
<path class="w" d="M646 395.5 C649.5 393.2 651.3 392 656.6 388.7 C661.9 385.4 660.2 386.6 662 385.5"/>
<path class="w" d="M670.7 374.8 C671.3 372.9 671.6 371.8 672.5 369 C673.4 366.2 673.2 367.3 673.5 366.5"/>
<path class="b2" d="M671.500 363c2-2 5.500-1.500 6 0.500s-2 4-4.500 3.500"/>
<path class="w" d="M677.9 361.6 C681.1 362.2 680.5 360.9 687.6 363.5 C694.7 366.1 692.8 366.8 699.2 369.4 C705.6 372 704.3 370.7 706.9 371.3"/>
<path class="w" d="M713.7 353.3 C713.4 356.7 712.7 357.5 712.7 363.5 C712.7 369.5 712.4 368.1 713.7 371.3 C715 374.5 715.6 372.6 716.6 373.2"/>
<path class="w" d="M721.4 345.7 C721.1 348.4 722.1 348.6 720.5 353.9 C718.9 359.2 718.5 357.1 716.6 361.6 C714.7 366.1 715.3 365.5 714.7 367.4"/>
<path class="w" d="M708.9 376.1 C708.6 374.1 708.7 372.7 708 370 C707.3 367.3 707.3 368.7 706.9 368"/>
<use href="#o" x="706.9" y="364.5"/>
<path class="h" d="M608.4 396 L607.5 415.5 Q607.3 419.5 609.6 419.8 L609.6 419.8 Q612 420 614.8 418.9 L635.4 410.4 Q640 408.5 644.6 406.6 L663.6 398.9 Q668.2 397 672.7 394.9 L730.5 368.6 Q735 366.5 739.7 364.7 L745.6 362.3 Q750.3 360.5 754.8 358.3 L797.9 337.4 Q806 333.5 809.1 325.8 L809.3 325.4 Q812.3 318 812 310 L811.3 287.9"/>
<path class="w" d="M597.7 397.2 C599.5 397.6 599.6 397.2 603 398.5 C606.4 399.8 606.2 400.2 607.8 401"/>
<path class="w" d="M598.2 407.3 C599.8 406.7 599.9 407.3 603 405.5 C606.1 403.7 606.1 403.2 607.6 402"/>
<rect x="-2.4" y="-5.500" width="4.800" height="11" rx="1" class="fw" transform="translate(714.500 314.400) rotate(-10)"/>
<rect x="-2.4" y="-5.500" width="4.800" height="11" rx="1" class="fw" transform="translate(722.800 312.100) rotate(-10)"/>
<path class="w" d="M711.3 318.5 C711.9 320 710.9 319.7 713 323 C715.1 326.3 715.1 325.2 717.5 328.5 C719.9 331.8 719.4 331.5 720.3 333"/>
<path class="l" d="M719.4 320.8 L750.3 361.4 L784.3 399.7"/>
<path class="h" d="M726.1 311.1 L728.3 311.8 Q730.5 312.5 731.3 315.4 L732.2 319.2 Q733.5 324 734.5 328.9 L735.3 332.7 Q736.8 339.5 741.4 340.8 L741.4 340.8 Q746 342 750.5 339.8 L794.4 318"/>
<path class="w" d="M733.9 327.6 C736.5 326 737.7 327.6 741.6 322.7 C745.5 317.8 745 319.9 745.5 313 C746 306.1 743.8 305.7 743 302"/>
<path class="w" d="M746.5 311 C748.4 309.8 749.6 311.8 752.3 307.3 C755 302.8 753.8 300.8 754.6 297.6"/>
<use href="#c" x="377.5" y="292.7"/>
<use href="#c" x="384.3" y="284.9"/>
<use href="#c" x="393.4" y="283.8"/>
<use href="#c" x="401.5" y="285.3"/>
<use href="#c" x="398.6" y="305.3"/>
<use href="#c" x="402.1" y="321.1"/>
<use href="#c" x="416.2" y="316.3"/>
<use href="#c" x="414.1" y="326"/>
<use href="#c" x="454" y="298.9"/>
<use href="#c" x="452" y="308"/>
<use href="#c" x="357" y="314.9"/>
<use href="#c" x="327.6" y="348.2"/>
<use href="#c" x="341.5" y="360.8"/>
<use href="#c" x="368" y="375.3"/>
<use href="#c" x="399.4" y="388"/>
<use href="#c" x="331.8" y="389.7"/>
<use href="#c" x="352.8" y="397.3"/>
<use href="#c" x="338.9" y="402.4"/>
<use href="#c" x="328.7" y="406.2"/>
<use href="#c" x="438.9" y="424"/>
<use href="#c" x="473.2" y="312.7"/>
<use href="#c" x="461.8" y="335.2"/>
<use href="#c" x="508.6" y="268.4"/>
<use href="#c" x="521.8" y="290.6"/>
<use href="#c" x="422.8" y="336.6"/>
<use href="#c" x="431.1" y="332.7"/>
<use href="#c" x="440.4" y="336.6"/>
<use href="#c" x="549.6" y="284.3"/>
<use href="#c" x="555.4" y="275.4"/>
<use href="#c" x="634" y="215.3"/>
<use href="#c" x="659.7" y="195.8"/>
<use href="#c" x="670" y="184.4"/>
<use href="#c" x="677.5" y="177.6"/>
<use href="#c" x="687.6" y="176"/>
<use href="#c" x="708.6" y="171.3"/>
<use href="#c" x="461.4" y="412"/>
<use href="#c" x="495.6" y="416.3"/>
<use href="#c" x="522.7" y="352.8"/>
<use href="#c" x="523.7" y="365.8"/>
<use href="#c" x="486.9" y="388"/>
<use href="#c" x="498.5" y="380.9"/>
<use href="#c" x="530.1" y="382.3"/>
<use href="#c" x="540.2" y="387.1"/>
<use href="#c" x="558.5" y="341.6"/>
<use href="#c" x="567.3" y="341.2"/>
<use href="#c" x="572.5" y="325.2"/>
<use href="#c" x="581.8" y="329"/>
<use href="#c" x="593.4" y="323.6"/>
<use href="#c" x="590.8" y="356.8"/>
<use href="#c" x="608.6" y="349"/>
<use href="#c" x="608.6" y="358.7"/>
<use href="#c" x="602.4" y="378.1"/>
<use href="#c" x="593.7" y="382.9"/>
<use href="#c" x="628" y="304.5"/>
<use href="#c" x="638.2" y="311.3"/>
<use href="#c" x="651.8" y="313.2"/>
<use href="#c" x="671.1" y="330.6"/>
<use href="#c" x="694.7" y="309.9"/>
<use href="#c" x="697.8" y="320"/>
<use href="#c" x="621.8" y="330.6"/>
<use href="#c" x="593.7" y="323.9"/>
<use href="#c" x="639.2" y="354.8"/>
<use href="#c" x="631.4" y="388.7"/>
<use href="#c" x="646" y="395.5"/>
<use href="#c" x="670.7" y="374.8"/>
<use href="#c" x="671" y="374.4"/>
<use href="#c" x="713.7" y="353.3"/>
<use href="#c" x="721.4" y="345.7"/>
<use href="#c" x="720.5" y="335.5"/>
<use href="#c" x="608.4" y="394"/>
<use href="#c" x="597.7" y="397.2"/>
<use href="#c" x="598.2" y="407.3"/>
<use href="#c" x="602.5" y="378.7"/>
<use href="#c" x="594" y="382.5"/>
<use href="#c" x="630.4" y="388.9"/>
<use href="#c" x="645.6" y="396"/>
<use href="#c" x="743" y="302"/>
<use href="#c" x="754.6" y="297.6"/>
<use href="#c" x="794.4" y="316"/>
<use href="#c" x="720.9" y="335.9"/>
<use href="#bolt" transform="translate(215.1 320.6) rotate(23.4) scale(1.031)"/>
<use href="#bolt" transform="translate(387.3 336.3) rotate(17.3) scale(1.023)"/>
<use href="#boltb" transform="translate(491.3 346.1) rotate(14.7) scale(1.057)"/>
<use href="#boltb" transform="translate(562.8 369.0) rotate(24.2) scale(1.140)"/>
<use href="#bolt" transform="translate(585.3 311.1) rotate(17.2) scale(0.994)"/>
<use href="#boltb" transform="translate(668.3 347.0) rotate(21.6) scale(1.147)"/>
<path class="w" d="M758 138.9 C759.3 141.3 759 140.4 762 146 C765 151.6 765.2 148.5 767 155.8 C768.8 163.1 767.5 159.6 767.5 168 C767.5 176.4 767.7 175 767 181 C766.3 187 766 184.3 765.5 186"/>
<path class="w" d="M761 142 L766.6 141.4"/>
<path class="w" d="M764.5 150 L772.9 149.5"/>
<path class="w" d="M767 156.5 L778 157.1"/>
<path class="w" d="M767.3 174 C769.9 173.7 770.9 173.8 775 173 C779.1 172.2 778.1 172 779.7 171.5"/>
<path class="w" d="M767 178 C770 178.7 770.9 178.8 776 180 C781.1 181.2 780.2 181.1 782.3 181.6"/>
<path class="w" d="M767 181 C764.7 181.8 763.6 182.4 760 183.5 C756.4 184.6 757.5 184 756.2 184.2"/>
<path class="w" d="M765.5 186 C764.7 187.2 764.2 187.5 763 189.5 C761.8 191.5 762.3 191.2 762 192"/>
<path class="w" d="M751.1 127.5 C753.1 129.7 754 130.5 757 134 C760 137.5 759 136.7 760 138"/>
<use href="#o" x="764" y="126.2"/>
<path class="h" d="M761.5 108.9 C762.5 111.5 760.6 110.7 764.6 116.6 C768.6 122.5 763.7 120.8 773.4 126.7 C783.1 132.6 779.3 128.4 793.7 134.3 C808.1 140.2 793.7 135.5 816.5 144.4 C839.3 153.3 844.2 154.7 862 160.9 C879.8 167.1 865.3 161.5 870 163 C874.7 164.5 874 164.6 876 165.4"/>
<path class="w" d="M793.7 134.3 C793 135.9 792.4 134.4 791.5 139 C790.6 143.6 790.2 143.5 791 148.2 C791.8 152.9 791 150.7 794 153 C797 155.3 795.2 153.8 800 155 C804.8 156.2 805.6 156.1 808.4 156.6"/>
<path class="w" d="M797 154 C797.8 153.2 798.2 153.2 799.5 151.5 C800.8 149.8 800.4 149.8 800.8 149"/>
<path class="w" d="M817.5 145 C817.8 147 816.7 148.2 818.5 151 C820.3 153.8 819.6 152.7 823 153.5 C826.4 154.3 826.7 153.4 828.6 153.3"/>
<path class="w" d="M818.5 150 C819.5 154.5 817.1 153.9 821.5 163.4 C825.9 172.9 827.9 171.4 831.6 178.6 C835.3 185.8 832.9 180.9 832.5 185 C832.1 189.1 831.1 188.9 830.4 190.8"/>
<path class="w" d="M832.5 184 C834.3 185 834.5 184.6 838 187 C841.5 189.4 841.3 189.9 843 191.3"/>
<path class="w" d="M860.8 160.5 C860.8 165.7 858.7 166.6 860.8 176 C862.9 185.4 863.2 185.7 867 188.7 C870.8 191.7 870.5 186.2 872.2 185"/>
<path class="w" d="M867 188.7 C869 189.6 868.9 190.4 873 191.5 C877.1 192.6 877.1 191.8 879.2 192"/>
<path class="l" d="M757 124.2 L784.8 135.6 L786 163.4 L790 165.5"/>
<path class="h" d="M851.1 116.6 C853.4 117.1 853 116.5 858 118 C863 119.5 860.4 119.2 866 121 C871.6 122.8 870.7 120.3 874.7 123.5 C878.7 126.7 875.6 125.2 878 130.5 C880.4 135.8 877.7 133 882 139.5 C886.3 146 884.5 142.5 891 150 C897.5 157.5 895.5 154.8 901.5 162 C907.5 169.2 905.5 165.8 909 171.5 C912.5 177.2 910.1 173.8 912 179 C913.9 184.2 913.8 184.3 914.7 187"/>
<path class="h" d="M870.9 136.8 C873.9 139.9 872.8 138.8 880 146 C887.2 153.2 886.1 152.1 892.4 158.4 C898.7 164.7 896 160.8 899 165 C902 169.2 901 167.5 901.3 171 C901.6 174.5 902.1 173.3 900 175.5 C897.9 177.7 899 176.9 895 177.5 C891 178.1 892.1 177.2 888 177.3 C883.9 177.4 884.5 177.6 882.8 177.8"/>
<path class="w" d="M884 158.4 C885.7 159.1 885.7 159.8 889 160.5 C892.3 161.2 892.3 160.5 894 160.5"/>
<path class="w" d="M887.3 169.2 C889.2 169.5 889.1 170.6 893 170 C896.9 169.4 897 168.3 899 167.5"/>
<path class="fw" d="M861 124.500c0-3 6-4 7.500-1.500s0 8-2.500 8.500s-5-3-5-7z"/>
<path class="b2" d="M864.500 122v6.500M869 124c3 0 3.500 5 1 7.500"/>
<path class="h" d="M914.7 186.7 C914.8 190.4 918.2 192.6 915 197.7 C911.8 202.8 911.8 198.6 905 202 C898.2 205.4 900.2 204.1 894.7 207.8 C889.2 211.5 890.9 207.3 888.4 213 C885.9 218.7 887.8 214.1 887.3 225 C886.8 235.9 888.8 237.6 887 245.8 C885.2 254 884.9 249.2 882 249.6 C879.1 250 880.1 253.5 878.2 247 C876.3 240.5 876.9 235.7 876.2 230"/>
<path class="w" d="M915 197.7 C912.9 200.2 910.3 200.5 908.6 205.3 C906.9 210.1 907.9 207.8 910 212 C912.1 216.2 911.7 212.7 915 218 C918.3 223.3 917.7 222.1 920 228 C922.3 233.9 921.3 233.1 922 235.7"/>
<path class="w" d="M914 217 C912.3 219 912.3 220.1 909 223 C905.7 225.9 905.7 224.7 904 225.6"/>
<path class="w" d="M916 199 C917 200.3 916.8 200.9 919 203 C921.2 205.1 921.3 204.5 922.5 205.3"/>
<path class="w" d="M911 212 C912.7 213 912.6 213.9 916 215 C919.4 216.1 919.5 215.3 921.3 215.4"/>
<path class="w" d="M887.5 247 C889.3 246.5 889.3 246.6 893 245.5 C896.7 244.4 896.7 244.4 898.5 243.8"/>
<path class="h" d="M878.2 247 C872.1 249.7 873.1 249.5 860 255 C846.9 260.5 850.7 258.3 839 263.5 C827.3 268.7 832.6 266.3 825 270.5 C817.4 274.7 820.4 272.7 816.2 276.2 C812 279.7 813.9 277.1 812.3 281 C810.7 284.9 811.6 285.6 811.3 287.9"/>
<path class="w" d="M854.2 256.5 C854.6 253.3 852.5 250.2 855.4 247 C858.3 243.8 858.5 245.3 863 247 C867.5 248.7 867 250.3 869 252"/>
<path class="h" d="M855 256 L855.3 277 Q855.4 283 852.2 287 L852.1 287.1 Q849 291 844 290.5 L844 290.5 Q839 290 833.5 287.6 L812.3 278.2"/>
<path class="w" d="M838 263.5 C836.7 260.1 837.5 260.1 834 253.4 C830.5 246.7 829.7 246.7 827.6 243.3"/>
<path class="w" d="M835 256 C835.3 252.7 835.3 252.1 836 246 C836.7 239.9 836.8 240.5 837.2 237.7"/>
<path class="w" d="M840 262.5 C840.2 259 839.5 256.3 840.5 252 C841.5 247.7 840.4 250.7 843 249.5 C845.6 248.3 846.6 248.8 848.4 248.4"/>
<use href="#o" x="894.3" y="195"/>
<path class="w" d="M813.2 294.7 L820 296.2"/>
<path class="w" d="M754.8 274.4 L773.8 284.2 Q777.4 286 781 287.5 L781 287.5 Q784.5 289 785.5 286 L785.5 286 Q786.5 283 785.9 279.6 L785.8 279.2 Q785.2 276.3 785.6 273.3 L785.7 272.5 Q786.1 269.5 788.5 269.1 L788.5 269.1 Q791 268.7 793.7 269.9 L812.3 278.2"/>
<path class="w" d="M770.3 291.4 C771.5 290.3 771.6 289.8 774 288 C776.4 286.2 776.3 286.7 777.4 286"/>
<path class="b2" d="M782 277.500c1 2.500 5 2.500 6 0.500s-1-3.500-2.500-3"/>
<path class="l" d="M867 214 L874.7 215.3 L887.3 192.5 L890.5 191"/>
<use href="#c" x="751.1" y="127.5"/>
<use href="#c" x="766.6" y="141.4"/>
<use href="#c" x="772.9" y="149.5"/>
<use href="#c" x="778" y="157.1"/>
<use href="#c" x="779.7" y="171.5"/>
<use href="#c" x="782.3" y="181.6"/>
<use href="#c" x="756.2" y="184.2"/>
<use href="#c" x="762" y="192"/>
<use href="#c" x="851.1" y="116.6"/>
<use href="#c" x="761.5" y="108.9"/>
<use href="#c" x="800.8" y="149"/>
<use href="#c" x="808.4" y="156.6"/>
<use href="#c" x="828.6" y="153.3"/>
<use href="#c" x="830.4" y="190.8"/>
<use href="#c" x="843" y="191.3"/>
<use href="#c" x="872.2" y="185"/>
<use href="#c" x="879.2" y="192"/>
<use href="#c" x="876" y="165.4"/>
<use href="#c" x="884" y="158.4"/>
<use href="#c" x="887.3" y="169.2"/>
<use href="#c" x="874.2" y="173.5"/>
<use href="#c" x="882.8" y="177.8"/>
<use href="#c" x="914.7" y="186.8"/>
<use href="#c" x="911" y="177.6"/>
<use href="#c" x="922.5" y="205.3"/>
<use href="#c" x="921.3" y="215.4"/>
<use href="#c" x="922" y="235.7"/>
<use href="#c" x="904" y="225.6"/>
<use href="#c" x="898.5" y="243.8"/>
<use href="#c" x="876.2" y="230"/>
<use href="#c" x="837.2" y="237.7"/>
<use href="#c" x="827.6" y="243.3"/>
<use href="#c" x="848.4" y="248.4"/>
<use href="#c" x="820" y="296.2"/>
<use href="#c" x="754.8" y="274.4"/>
<use href="#c" x="770.3" y="291.4"/>
<use href="#bolt" transform="translate(806.3 170.8) rotate(22.7) scale(1.009)"/>
<use href="#boltb" transform="translate(855.3 208.2) rotate(20.5) scale(1.119)"/>
<path class="b2" d="M916.4 6.5 L916.4 117.2 L961.8 161.8 L1091.4 161.8"/>
<path class="fw" stroke-width="1.800" d="M1037.900 37L1043.900 32.200L1055 33.600L1062 41.300L1068.800 54.200L1070 59.400L1070 93.700L1066.200 104L1057.600 112.600L1052.500 111.800L1043 104L1035.300 100.600L1033.900 55.900L1035 43.900Z"/>
<path class="b" d="M1056 36.500L1062.500 46L1066.300 55L1066.500 93L1063.200 102L1057 108.500M1037.900 37L1041 42L1041.300 50.800"/>
<circle cx="1049" cy="42.200" r="3.900" class="fw" stroke-width="1.400"/><circle cx="1049" cy="42.200" r="1.900" class="fw"/>
<ellipse cx="1051.600" cy="104.600" rx="4" ry="3" class="fw" stroke-width="1.400"/><ellipse cx="1051.600" cy="104.600" rx="1.900" ry="1.400" class="fw"/>
<path class="fw" stroke-width="1.700" d="M1033.900 55.900L1041.300 50.800L1061.900 65.400L1061.900 93.700L1056.800 100.600L1035.300 100.600Z"/>
<path class="b2" d="M1033.900 55.900L1054.200 68L1054.200 100.600M1054.200 68L1061.900 65.400M1036.500 60L1051.500 69L1051.500 98.500L1036.500 98.500"/>
<rect x="1038.5" y="61.5" width="9.5" height="4.600" rx="2.200" class="f" stroke-width="1.400" transform="rotate(14 1043 63.8)"/>
<rect x="1038.5" y="67.7" width="9.5" height="4.600" rx="2.200" class="f" stroke-width="1.400" transform="rotate(14 1043 70.0)"/>
<rect x="1038.5" y="73.9" width="9.5" height="4.600" rx="2.200" class="f" stroke-width="1.400" transform="rotate(14 1043 76.2)"/>
<rect x="1038.5" y="80.1" width="9.5" height="4.600" rx="2.200" class="f" stroke-width="1.400" transform="rotate(14 1043 82.4)"/>
<rect x="1038.5" y="86.3" width="9.5" height="4.600" rx="2.200" class="f" stroke-width="1.400" transform="rotate(14 1043 88.6)"/>
<rect x="1038.5" y="92.5" width="9.5" height="4.600" rx="2.200" class="f" stroke-width="1.400" transform="rotate(14 1043 94.8)"/>
<path class="fw" stroke-width="1.800" d="M953.100 67.700L958.500 63.100L963.900 63.100L971.200 69.500L981.100 85.700L985.600 98.400L986 127.300L982.900 134.600L973.900 145.400L967.500 148.100L962.100 145.400L953.100 140L949.500 91.200L950.400 73.100Z"/>
<path class="b" d="M956 69L959.500 66L963 66L969 71.500L978.500 87L982.500 99L982.800 126.500L980 133L972 142.500L967.500 144.800L963.500 143M953.100 67.700L956 73L956 85M960 70L962.500 85.500M971.200 69.500L966 86"/>
<circle cx="966.100" cy="78.100" r="4.300" class="fw" stroke-width="1.400"/><circle cx="966.100" cy="78.100" r="2" class="fw"/>
<ellipse cx="967.900" cy="141.400" rx="4" ry="3" class="fw" stroke-width="1.400"/><ellipse cx="967.900" cy="141.400" rx="1.800" ry="1.300" class="fw"/>
<path class="fw" stroke-width="1.700" d="M952.200 88.500L955.800 84.800L977.500 101.100L977.500 131L973 136.400L953.100 136.400Z"/>
<path class="b2" d="M952.200 88.500L970.300 102.900L970.300 136.400M970.300 102.900L977.500 101.100M954.500 93L967.500 103.500L967.500 134"/>
<path class="k" d="M955 100.500L960.500 104.500L960.500 110.500L955 108Z"/>
<path class="b2" d="M961 104L965.500 107.500L965.500 111M962 113v6l3.200 2v-5.500l1.500 1v7M958 123v5.500l4.500 2.500"/>
<rect x="943.1" y="92.5" width="9.8" height="7.200" rx="2.200" class="f" stroke-width="1.400"/>
<rect x="943.1" y="101.1" width="9.8" height="7.200" rx="2.200" class="f" stroke-width="1.400"/>
<rect x="943.1" y="109.7" width="9.8" height="7.200" rx="2.200" class="f" stroke-width="1.400"/>
<rect x="943.1" y="118.3" width="9.8" height="7.200" rx="2.200" class="f" stroke-width="1.400"/>
<rect x="943.1" y="126.9" width="9.8" height="7.200" rx="2.200" class="f" stroke-width="1.400"/>
<circle cx="956.500" cy="116.500" r="1.500" class="f" stroke-width="1.200"/><circle cx="956.500" cy="123.500" r="1.500" class="f" stroke-width="1.200"/><circle cx="956.500" cy="130.500" r="1.500" class="f" stroke-width="1.200"/><circle cx="955.500" cy="139.500" r="1.200" class="k"/><circle cx="951.500" cy="140.500" r="1.200" class="k"/>
<rect x="978.300" y="105.0" width="3.400" height="4" rx="0.8" class="f" stroke-width="1"/>
<rect x="978.300" y="110.8" width="3.400" height="4" rx="0.8" class="f" stroke-width="1"/>
<rect x="978.300" y="116.6" width="3.400" height="4" rx="0.8" class="f" stroke-width="1"/>
<rect x="978.300" y="122.4" width="3.400" height="4" rx="0.8" class="f" stroke-width="1"/>
<rect x="978.300" y="128.2" width="3.400" height="4" rx="0.8" class="f" stroke-width="1"/>
<use href="#scrf" transform="translate(993.6 65.1) rotate(160.7)"/>
<use href="#scr" transform="translate(1012.8 55.1) rotate(-20.7)"/>
<path class="b2" d="M612.3 464.5 L612.3 547.1 L931.4 547.1"/>
<path class="b2" stroke-dasharray="52 4 6 4 90 4 6 4" d="M612.300 464.500L769 401.300L794 403.500"/>
<path class="b2" stroke-dasharray="48 5 6 5 98 5 7 5" d="M1096.600 477L931.400 547.100"/>
<path class="b2" d="M1096.6 276 L1024 276"/>
<path class="b2" stroke-dasharray="38 3 5 3" d="M1096.600 276L1096.600 477"/>
<path class="b" stroke-dasharray="70 4 6 4 50 4 6 4" d="M1018.600 276.400L856.500 349.600L856 404"/>
<path class="b" d="M798.7 423.8 L855.5 399.6"/>
<path class="b2" d="M1011.4 282.4 L1091 282.4 L1091 472.2 L860.6 472.2 L860.6 351"/>
<path class="b" stroke-dasharray="60 4 6 4 55 4 6 4" d="M1011.400 282.400L860.600 351"/>
<path class="l" d="M852 445 L860.6 445"/>
<path class="l" d="M1052.4 259.8 L1052.4 276"/>
<path class="l" d="M802.5 472.5 L825.1 472.5 L825.1 535.1 L764.1 535.1"/>
<path class="l" d="M825.1 501.4 L836.4 501.4"/>
<path class="l" d="M798.6 519.5 L825.1 519.5"/>
<path class="l" d="M728.8 519.5 L770.9 519.5"/>
<path class="l" d="M672.7 535.1 L737.6 535.1"/>
<path class="fw" stroke-width="1.800" d="M772.300 411.100L778 405.400L784.600 403.500L794.100 405.400L800.800 419.700L801.700 433L801.100 474.700L795.100 488L787.500 490.900L778 485.200L773.200 478.500L771.900 425.400Z"/>
<path class="b" d="M775 412.500L779.300 408.200L784.800 406.500L792.200 408L797.900 420.500L798.700 433.200L798.100 474L793 485.500L787.500 487.800L779.800 483L776 477.500L774.800 426Z"/>
<circle cx="780.400" cy="414.900" r="3.600" class="fw" stroke-width="1.400"/><circle cx="780.400" cy="414.900" r="1.600" class="fw"/><circle cx="789.700" cy="415.900" r="1.800" class="fw" stroke-width="1.200"/>
<ellipse cx="779.900" cy="481.400" rx="3.500" ry="2.700" class="fw" stroke-width="1.400"/><ellipse cx="779.900" cy="481.400" rx="1.500" ry="1.100" class="fw"/><circle cx="788.500" cy="484.500" r="1.500" class="fw" stroke-width="1.200"/>
<path class="fw" stroke-width="1.700" d="M778 428.200L788.400 426.300L792.200 431.100L792.200 470.900L788.400 476.600L778 474.700Z"/>
<path class="b2" d="M780.500 430.500L780.500 474.500M788.400 426.300L786.500 431L786.500 475.500"/>
<rect x="760.500" y="429.2" width="17.500" height="6.700" rx="2.600" class="f" stroke-width="1.400" transform="rotate(-4 769 432.5)"/>
<rect x="760.500" y="436.9" width="17.500" height="6.700" rx="2.600" class="f" stroke-width="1.400" transform="rotate(-4 769 440.2)"/>
<rect x="760.500" y="444.6" width="17.500" height="6.700" rx="2.600" class="f" stroke-width="1.400" transform="rotate(-4 769 447.9)"/>
<rect x="760.500" y="452.3" width="17.500" height="6.700" rx="2.600" class="f" stroke-width="1.400" transform="rotate(-4 769 455.6)"/>
<rect x="760.500" y="460.0" width="17.500" height="6.700" rx="2.600" class="f" stroke-width="1.400" transform="rotate(-4 769 463.3)"/>
<rect x="760.500" y="467.7" width="17.500" height="6.700" rx="2.600" class="f" stroke-width="1.400" transform="rotate(-4 769 471.0)"/>
<path class="b2" d="M759.500 434l-3.500 1.500l1.500 2.500M760.500 441l-2 1M759.500 470l-2.500 1.500M761 478l-2 1.500"/>
<rect x="794.500" y="436.0" width="3.200" height="4.800" rx="0.8" class="f" stroke-width="1"/>
<rect x="794.500" y="444.6" width="3.200" height="4.800" rx="0.8" class="f" stroke-width="1"/>
<rect x="794.500" y="453.2" width="3.200" height="4.800" rx="0.8" class="f" stroke-width="1"/>
<rect x="794.500" y="461.8" width="3.200" height="4.800" rx="0.8" class="f" stroke-width="1"/>
<rect x="794.500" y="470.4" width="3.200" height="4.800" rx="0.8" class="f" stroke-width="1"/>
<path d="M764.5 478 C764.2 479.7 765.1 477.9 763.5 483 C761.9 488.1 763.9 486.9 759.7 493.2 C755.5 499.5 757.1 498.7 750.9 502 C744.7 505.3 746.9 503.5 741 503 C735.1 502.5 739.7 505.8 733.2 500.6 C726.7 495.4 729.3 495.2 721.4 487.3 C713.5 479.4 716.5 481.4 709.6 477 C702.7 472.6 705.1 474 700.8 474 C696.5 474 698.3 474.3 696.8 477 C695.3 479.7 696.5 477.7 696.3 482 C696.1 486.3 696.3 487.3 696.3 490" fill="none" stroke="#000" stroke-width="8.5" stroke-linecap="butt"/>
<path d="M764.5 478 C764.2 479.7 765.1 477.9 763.5 483 C761.9 488.1 763.9 486.9 759.7 493.2 C755.5 499.5 757.1 498.7 750.9 502 C744.7 505.3 746.9 503.5 741 503 C735.1 502.5 739.7 505.8 733.2 500.6 C726.7 495.4 729.3 495.2 721.4 487.3 C713.5 479.4 716.5 481.4 709.6 477 C702.7 472.6 705.1 474 700.8 474 C696.5 474 698.3 474.3 696.8 477 C695.3 479.7 696.5 477.7 696.3 482 C696.1 486.3 696.3 487.3 696.3 490" fill="none" stroke="#fff" stroke-width="5.7" stroke-linecap="butt"/>
<path d="M764.5 478 C764.2 479.7 765.1 477.9 763.5 483 C761.9 488.1 763.9 486.9 759.7 493.2 C755.5 499.5 757.1 498.7 750.9 502 C744.7 505.3 746.9 503.5 741 503 C735.1 502.5 739.7 505.8 733.2 500.6 C726.7 495.4 729.3 495.2 721.4 487.3 C713.5 479.4 716.5 481.4 709.6 477 C702.7 472.6 705.1 474 700.8 474 C696.5 474 698.3 474.3 696.8 477 C695.3 479.7 696.5 477.7 696.3 482 C696.1 486.3 696.3 487.3 696.3 490" fill="none" stroke="#000" stroke-width="5.7" stroke-dasharray="1.2 3.4" stroke-linecap="butt"/>
<path class="fw" stroke-width="1.800" d="M690.500 492L704.500 488.500L708.500 490.500L708.500 500L709.600 501L709.600 516L697.500 520.500L686 516.500L686 501L690.500 499.500Z"/>
<path class="b2" d="M686 501L697.500 504.500L709.600 501M697.500 504.500L697.500 520.500M690.500 492L694.500 494L708.500 490.500M694.500 494L694.500 503.500M701 508.500v9M704.500 507.500v9M699 513h8"/>
<path class="b2" d="M694 488v-5M698 487v-5M702 486.500v-5"/>
<path class="fw" stroke-width="1.5" d="M716.500 517.500L722 513.500L728 514L729.500 518L730 527L724 529L718 528Z"/>
<path class="k" d="M718.500 518.500L723 516L727.500 516.500L728 519.500L722.500 520.500L722 527L719.500 526.500Z"/>
<path d="M653 529 C653.8 531.3 653 532.2 655.5 536 C658 539.8 657 539.3 660.5 540.5 C664 541.7 663.3 542.5 666 539.5 C668.7 536.5 667 536.3 668.5 531.5 C670 526.7 669.8 527.2 670.5 525" fill="none" stroke="#000" stroke-width="6.200" stroke-linecap="round"/>
<path d="M653 529 C653.8 531.3 653 532.2 655.5 536 C658 539.8 657 539.3 660.5 540.5 C664 541.7 663.3 542.5 666 539.5 C668.7 536.5 667 536.3 668.5 531.5 C670 526.7 669.8 527.2 670.5 525" fill="none" stroke="#fff" stroke-width="3" stroke-linecap="round"/>
<ellipse cx="647.2" cy="527.0" rx="4.300" ry="3.300" class="fw" transform="rotate(25 647.2 527.0)"/>
<circle cx="647.2" cy="527.0" r="1.300" class="f"/>
<ellipse cx="653.0" cy="529.0" rx="4.200" ry="3.400" class="fw" transform="rotate(20 653.0 529.0)"/>
<path d="M668.0 534.5l1.500 -5.500" stroke="#000" stroke-width="3.200" fill="none"/>
<path class="fw" stroke-width="1.800" d="M879.900 361.900L885.800 357.300L894.800 357.900L902.700 366.900L908.700 377.800L909.700 384.800L909.700 412.600L906.700 424.500L897.800 434.500L891.800 436.500L884.900 432.500L878.900 424L878.900 378.800Z"/>
<path class="b" d="M882.500 363.500L886.500 360.300L893.500 360.800L900.300 368.500L905.800 378.500L906.700 385.200L906.700 412L904 423L896.300 431.700L892 433.200L886.500 430"/>
<circle cx="889.800" cy="366.500" r="4.300" class="fw" stroke-width="1.400"/><circle cx="889.800" cy="366.500" r="2.200" class="fw"/>
<ellipse cx="892.500" cy="430.500" rx="3" ry="2.200" class="fw"/>
<path class="fw" stroke-width="1.700" d="M868 381.800L871.900 378.800L891.800 376.800L896.800 381.800L896.800 423.500L883.900 430.500L868 420.500Z"/>
<path class="b2" d="M870 382.800L884.900 382.800L884.900 428.500M870 382.800L870 419.500L883 427.500M884.900 382.800L891.800 376.800M888.500 381v45.500M893 379.800v45"/>
<rect x="872.500" y="386.5" width="9.500" height="5.400" rx="2.300" class="f" stroke-width="1.400"/>
<path class="b" d="M877 386.5v5.400"/>
<rect x="872.500" y="394.1" width="9.500" height="5.400" rx="2.300" class="f" stroke-width="1.400"/>
<path class="b" d="M877 394.1v5.400"/>
<rect x="872.500" y="401.7" width="9.500" height="5.400" rx="2.300" class="f" stroke-width="1.400"/>
<path class="b" d="M877 401.7v5.400"/>
<rect x="872.500" y="409.3" width="9.500" height="5.400" rx="2.300" class="f" stroke-width="1.400"/>
<path class="b" d="M877 409.3v5.400"/>
<rect x="872.500" y="416.9" width="9.500" height="5.400" rx="2.300" class="f" stroke-width="1.400"/>
<path class="b" d="M877 416.9v5.400"/>
<path d="M886.700 384v42M890.800 383v42" stroke="#000" stroke-width="1" stroke-dasharray="1 2.500" fill="none"/>
<path d="M909.4 388 C912.8 388.5 914.4 387.4 919.6 389.4 C924.8 391.4 922.5 390.2 925 394 C927.5 397.8 924.8 391 927.2 400.8 C929.6 410.6 930.1 410 932.2 423.5 C934.3 437 931.9 433.6 933.5 441.3 C935.1 449 934.5 444 937 446.5 C939.5 449 935.4 449 941 448.9 C946.6 448.8 946.1 449.3 953.7 446.3 C961.3 443.3 960.5 442.1 963.9 440" fill="none" stroke="#000" stroke-width="8.5" stroke-linecap="butt"/>
<path d="M909.4 388 C912.8 388.5 914.4 387.4 919.6 389.4 C924.8 391.4 922.5 390.2 925 394 C927.5 397.8 924.8 391 927.2 400.8 C929.6 410.6 930.1 410 932.2 423.5 C934.3 437 931.9 433.6 933.5 441.3 C935.1 449 934.5 444 937 446.5 C939.5 449 935.4 449 941 448.9 C946.6 448.8 946.1 449.3 953.7 446.3 C961.3 443.3 960.5 442.1 963.9 440" fill="none" stroke="#fff" stroke-width="5.7" stroke-linecap="butt"/>
<path d="M909.4 388 C912.8 388.5 914.4 387.4 919.6 389.4 C924.8 391.4 922.5 390.2 925 394 C927.5 397.8 924.8 391 927.2 400.8 C929.6 410.6 930.1 410 932.2 423.5 C934.3 437 931.9 433.6 933.5 441.3 C935.1 449 934.5 444 937 446.5 C939.5 449 935.4 449 941 448.9 C946.6 448.8 946.1 449.3 953.7 446.3 C961.3 443.3 960.5 442.1 963.9 440" fill="none" stroke="#000" stroke-width="5.7" stroke-dasharray="1.2 3.4" stroke-linecap="butt"/>
<path d="M963.9 440 C973.2 433.7 968.9 433.2 991.7 421 C1014.5 408.8 1014.1 413 1032.2 403.3 C1050.3 393.6 1038.4 399.6 1046 392 C1053.6 384.4 1049.9 386 1055 380.5 C1060.1 375 1059.2 377.1 1061.3 375.4" fill="none" stroke="#000" stroke-width="7.0"/>
<path d="M963.9 440 C973.2 433.7 968.9 433.2 991.7 421 C1014.5 408.8 1014.1 413 1032.2 403.3 C1050.3 393.6 1038.4 399.6 1046 392 C1053.6 384.4 1049.9 386 1055 380.5 C1060.1 375 1059.2 377.1 1061.3 375.4" fill="none" stroke="#fff" stroke-width="4.2"/>
<path d="M963.9 440 C973.2 433.7 968.9 433.2 991.7 421 C1014.5 408.8 1014.1 413 1032.2 403.3 C1050.3 393.6 1038.4 399.6 1046 392 C1053.6 384.4 1049.9 386 1055 380.5 C1060.1 375 1059.2 377.1 1061.3 375.4" fill="none" stroke="#000" stroke-width="1.3"/>
<path d="M950.5 378 C950.2 383.7 950.1 383.2 949.5 395 C948.9 406.8 950.5 405.1 948.7 413.4 C946.9 421.7 947.9 416.1 944 420 C940.1 423.9 939.3 423.3 937 425" fill="none" stroke="#000" stroke-width="7.0"/>
<path d="M950.5 378 C950.2 383.7 950.1 383.2 949.5 395 C948.9 406.8 950.5 405.1 948.7 413.4 C946.9 421.7 947.9 416.1 944 420 C940.1 423.9 939.3 423.3 937 425" fill="none" stroke="#fff" stroke-width="4.2"/>
<path d="M950.5 378 C950.2 383.7 950.1 383.2 949.5 395 C948.9 406.8 950.5 405.1 948.7 413.4 C946.9 421.7 947.9 416.1 944 420 C940.1 423.9 939.3 423.3 937 425" fill="none" stroke="#000" stroke-width="1.3"/>
<path d="M984 381 C983.7 384.7 983.8 386.3 983 392 C982.2 397.7 985.3 394.2 981.6 398.2 C977.9 402.2 977.9 400.6 972 404 C966.1 407.4 970.8 402.7 963.9 408.4 C957 414.1 960.2 414.8 951.2 421 C942.2 427.2 941.7 425 937 427" fill="none" stroke="#000" stroke-width="7.0"/>
<path d="M984 381 C983.7 384.7 983.8 386.3 983 392 C982.2 397.7 985.3 394.2 981.6 398.2 C977.9 402.2 977.9 400.6 972 404 C966.1 407.4 970.8 402.7 963.9 408.4 C957 414.1 960.2 414.8 951.2 421 C942.2 427.2 941.7 425 937 427" fill="none" stroke="#fff" stroke-width="4.2"/>
<path d="M984 381 C983.7 384.7 983.8 386.3 983 392 C982.2 397.7 985.3 394.2 981.6 398.2 C977.9 402.2 977.9 400.6 972 404 C966.1 407.4 970.8 402.7 963.9 408.4 C957 414.1 960.2 414.8 951.2 421 C942.2 427.2 941.7 425 937 427" fill="none" stroke="#000" stroke-width="1.3"/>
<path class="fw" stroke-width="1.800" d="M945.500 352L949 350L960 351L963 354L963 362L964.500 364L964.500 375.500L956 378.500L944 375.500L944 363L945.500 361Z"/>
<path class="b2" d="M944 363L956 366L964.500 364M956 366L956 378.500M945.500 352L955.500 354.500L963 354M955.500 354.500L955.500 365.500M948 366v10M952 367v10M950.500 353v8"/>
<path class="fw" stroke-width="1.800" d="M977 358.500L981 357L992 358.500L994 361.500L994 378L986 381.500L975.500 379L975.500 367.500L977 366Z"/>
<path class="b2" d="M975.500 367.500L986 370L994 367.500M986 370L986 381.500M977 358.500L986.500 361L994 361.500M986.500 361L986.500 370M979 370.500v8M982.500 371v9M988.500 372c3-1 4 5 0.500 6"/>
<path class="fw" stroke-width="1.600" d="M922.500 346.500L926.500 344.800L933.500 346L934.400 349L934.400 360L929.500 363.500L922.500 361.500L921.800 356Z"/>
<path class="fw" stroke-width="1.400" d="M917 347.500L919.500 346L922.300 347L922.300 355L919.500 356.500L917 355Z"/>
<path class="b2" d="M926 345.500L926.500 361.500M926.500 349.500L934 350.500M929.800 350.500L929.800 363"/>
<path class="k" d="M927.500 351.500h2v8h-2zM931 352h2.200v7h-2.200z"/>
<path class="fw" stroke-width="1.600" d="M1060 370L1063 366.500L1071 363.500L1074 362.200L1080 362.500L1083.500 365.500L1086.600 368.700L1086.600 385.800L1079 388.800L1073.600 386.500L1068 389L1064 386L1064 378L1060 376.500Z"/>
<path class="b2" d="M1073.600 370L1086.600 368.700M1073.600 370L1073.600 386.500M1063 366.500L1073.600 370M1074 362.200L1075.500 367L1081.500 366.500L1083.500 365.500M1064 378L1069 379.500L1069 388.500M1069 379.500L1073.600 378M1065 372L1070.500 373.500L1070.500 377M1067 368.500c2-1.500 5-1 5.500 1"/>
<path class="k" d="M1065 380.500h3v5.500h-3zM1070 381h2.500v4h-2.500z"/>
<path d="M1012.2 373.7 C1013.1 376.9 1011.9 377.5 1014.8 383.2 C1017.7 388.9 1016.8 388.9 1020.8 390.9 C1024.8 392.9 1023.9 392.6 1026.8 389.2 C1029.7 385.8 1027.9 384.9 1029.4 380.6 C1030.9 376.3 1030.7 377.7 1031.4 376.3" fill="none" stroke="#000" stroke-width="6.200" stroke-linecap="round"/>
<path d="M1012.2 373.7 C1013.1 376.9 1011.9 377.5 1014.8 383.2 C1017.7 388.9 1016.8 388.9 1020.8 390.9 C1024.8 392.9 1023.9 392.6 1026.8 389.2 C1029.7 385.8 1027.9 384.9 1029.4 380.6 C1030.9 376.3 1030.7 377.7 1031.4 376.3" fill="none" stroke="#fff" stroke-width="3" stroke-linecap="round"/>
<ellipse cx="1007.0" cy="374.6" rx="3.300" ry="2.700" class="fw" transform="rotate(25 1007.0 374.6)"/>
<circle cx="1007.0" cy="374.6" r="1.100" class="f"/>
<ellipse cx="1012.2" cy="373.7" rx="4.200" ry="3.400" class="fw" transform="rotate(20 1012.2 373.7)"/>
<path d="M1028.8 384.0l1.500 -5.500" stroke="#000" stroke-width="3.200" fill="none"/>
<path d="M1012.2 322.2 C1013.1 325.1 1011.9 326.2 1014.8 330.8 C1017.7 335.4 1016.5 335.3 1020.8 335.9 C1025.1 336.5 1024.5 337.1 1027.6 332.5 C1030.7 327.9 1028.8 327.6 1030.2 322.2 C1031.6 316.8 1031.3 318.2 1031.9 316.2" fill="none" stroke="#000" stroke-width="6.200" stroke-linecap="round"/>
<path d="M1012.2 322.2 C1013.1 325.1 1011.9 326.2 1014.8 330.8 C1017.7 335.4 1016.5 335.3 1020.8 335.9 C1025.1 336.5 1024.5 337.1 1027.6 332.5 C1030.7 327.9 1028.8 327.6 1030.2 322.2 C1031.6 316.8 1031.3 318.2 1031.9 316.2" fill="none" stroke="#fff" stroke-width="3" stroke-linecap="round"/>
<ellipse cx="1006.2" cy="323.0" rx="3.300" ry="2.700" class="fw" transform="rotate(25 1006.2 323.0)"/>
<circle cx="1006.2" cy="323.0" r="1.100" class="f"/>
<ellipse cx="1012.2" cy="322.2" rx="4.200" ry="3.400" class="fw" transform="rotate(20 1012.2 322.2)"/>
<path d="M1029.7 326.0l1.500 -5.500" stroke="#000" stroke-width="3.200" fill="none"/>
<use href="#scrf" transform="translate(814.9 401.4) rotate(161.4)"/>
<use href="#scr" transform="translate(836.2 390.7) rotate(-21.0)"/>
<text class="t" x="215.4" y="53.8" font-size="18.3" transform="matrix(0.93 0 0 1 15.1 0)">9</text>
<text class="t" x="160.8" y="195.8" font-size="18.3" transform="matrix(0.93 0 0 1 11.3 0)">4</text>
<text class="t" x="93.2" y="341.2" font-size="18.3" transform="matrix(0.93 0 0 1 6.5 0)">28</text>
<text class="t" x="144.3" y="334.2" font-size="18.3" transform="matrix(0.93 0 0 1 10.1 0)">30</text>
<text class="t" x="134.2" y="376.4" font-size="18.3" transform="matrix(0.93 0 0 1 9.4 0)">8</text>
<text class="t" x="209.6" y="361.5" font-size="18.3" transform="matrix(0.93 0 0 1 14.7 0)">18</text>
<text class="t" x="508.6" y="243.3" font-size="18.3" transform="matrix(0.93 0 0 1 35.6 0)">27</text>
<text class="t" x="473.2" y="287.3" font-size="18.3" transform="matrix(0.93 0 0 1 33.1 0)">3</text>
<text class="t" x="600" y="261.1" font-size="18.3" transform="matrix(0.93 0 0 1 42 0)">10</text>
<text class="t" x="648.4" y="285.2" font-size="18.3" transform="matrix(0.93 0 0 1 45.4 0)">26</text>
<text class="t" x="685" y="275" font-size="18.3" transform="matrix(0.93 0 0 1 47.9 0)">11</text>
<text class="t" x="685" y="295.3" font-size="18.3" transform="matrix(0.93 0 0 1 47.9 0)">12</text>
<text class="t" x="611.6" y="312.5" font-size="18.3" transform="matrix(0.93 0 0 1 42.8 0)">18</text>
<text class="t" x="698.2" y="349.8" font-size="18.3" transform="matrix(0.93 0 0 1 48.9 0)">18</text>
<text class="t" x="392.5" y="365.2" font-size="18.3" transform="matrix(0.93 0 0 1 27.5 0)">19</text>
<text class="t" x="381" y="406.8" font-size="18.3" transform="matrix(0.93 0 0 1 26.7 0)">1</text>
<text class="t" x="484.2" y="374.2" font-size="18.3" transform="matrix(0.93 0 0 1 33.9 0)">18</text>
<text class="t" x="540" y="361.8" font-size="18.3" transform="matrix(0.93 0 0 1 37.8 0)">19</text>
<text class="t" x="482.4" y="443.6" font-size="18.3" transform="matrix(0.93 0 0 1 33.8 0)">6</text>
<text class="t" x="631.5" y="448.1" font-size="18.3" transform="matrix(0.93 0 0 1 44.2 0)">7</text>
<text class="t" x="816.6" y="120.4" font-size="18.3" transform="matrix(0.93 0 0 1 57.2 0)">5</text>
<text class="t" x="927" y="157.3" font-size="18.3" transform="matrix(0.93 0 0 1 64.9 0)">2</text>
<text class="t" x="799.5" y="210.5" font-size="18.3" transform="matrix(0.93 0 0 1 56 0)">18</text>
<text class="t" x="829.6" y="219.8" font-size="18.3" transform="matrix(0.93 0 0 1 58.1 0)">18</text>
<text class="t" x="989.5" y="38.4" font-size="18.3" transform="matrix(0.93 0 0 1 69.3 0)">17</text>
<text class="t" x="1015" y="25.3" font-size="18.3" transform="matrix(0.93 0 0 1 71 0)">17</text>
<text class="t" x="1008.4" y="92.8" font-size="18.3" transform="matrix(0.93 0 0 1 70.6 0)">24</text>
<text class="t" x="1017.8" y="136.7" font-size="18.3" transform="matrix(0.93 0 0 1 71.2 0)">23</text>
<text class="t" x="1052.4" y="233.6" font-size="18.3" transform="matrix(0.93 0 0 1 73.7 0)">32</text>
<text class="t" x="1052.4" y="253.9" font-size="18.3" transform="matrix(0.93 0 0 1 73.7 0)">33</text>
<text class="t" x="1017.2" y="304.8" font-size="18.3" transform="matrix(0.93 0 0 1 71.2 0)">22</text>
<text class="t" x="970.2" y="342.4" font-size="18.3" transform="matrix(0.93 0 0 1 67.9 0)">25</text>
<text class="t" x="1017.2" y="358.8" font-size="18.3" transform="matrix(0.93 0 0 1 71.2 0)">21</text>
<text class="t" x="810.6" y="377.8" font-size="18.3" transform="matrix(0.93 0 0 1 56.7 0)">17</text>
<text class="t" x="835.8" y="367.8" font-size="18.3" transform="matrix(0.93 0 0 1 58.5 0)">17</text>
<text class="t" x="838.8" y="440.8" font-size="18.3" transform="matrix(0.93 0 0 1 58.7 0)">14</text>
<text class="t" x="838.8" y="461.1" font-size="18.3" transform="matrix(0.93 0 0 1 58.7 0)">16</text>
<text class="t" x="851.5" y="496.8" font-size="18.3" transform="matrix(0.93 0 0 1 59.6 0)">13</text>
<text class="t" x="851.5" y="517.2" font-size="18.3" transform="matrix(0.93 0 0 1 59.6 0)">15</text>
<text class="t" x="784" y="525.3" font-size="18.3" transform="matrix(0.93 0 0 1 54.9 0)">20</text>
<text class="t" x="750.3" y="540.9" font-size="18.3" transform="matrix(0.93 0 0 1 52.5 0)">22</text>
<path class="l" d="M215.4 60.8 L215.4 75"/>
<path class="l" d="M160.8 200.7 L160.8 218"/>
<path class="l" d="M93.1 307.5 L93.1 323.4"/>
<path class="l" d="M144.5 300.3 L144.5 316.2"/>
<path class="l" d="M122.9 307.5 L122.9 347.3 L144.6 347.3 L144.6 341"/>
<path class="l" d="M134.2 347.3 L134.2 357.5"/>
<path class="l" d="M209.4 328.4 L209.4 344"/>
<path class="l" d="M508.6 249.4 L508.6 264.6"/>
<path class="l" d="M473.2 293 L473.2 309"/>
<path class="l" d="M600 266.7 L600 282"/>
<path class="l" d="M648.4 290.8 L648.4 301"/>
<path class="l" d="M685 301 L685 317.3"/>
<path class="l" d="M589.8 307 L596.6 307"/>
<path class="l" d="M674 343.6 L683.7 343.6"/>
<path class="l" d="M391.3 340.4 L391.3 346.7"/>
<path class="l" d="M380.6 374.6 L380.6 389.7"/>
<path class="l" d="M484 349.4 L484 356.1"/>
<path class="l" d="M552.7 356.1 L561.4 356.7 L563.4 360"/>
<path class="l" d="M482.4 411.3 L482.4 426.5"/>
<path class="l" d="M631.6 413.7 L631.6 428.9"/>
<path class="l" d="M816.6 126.7 L816.6 144.4"/>
<path class="l" d="M891 151.5 L919 151.5"/>
<path class="l" d="M799.5 178.6 L799.5 192.5"/>
<path class="l" d="M841.8 214 L849.4 214"/>
<path class="l" d="M989.5 40.7 L989.5 57"/>
<path class="l" d="M1015 29.3 L1015 47.2"/>
<path class="l" d="M1023.7 87 L1034 87"/>
<path class="l" d="M986.3 130.9 L1004 130.9"/>
<path class="l" d="M1017.2 307 L1017.2 321"/>
<path class="l" d="M933.5 347 L943 336.6 L957 336.6"/>
<path class="l" d="M1017.2 361 L1017.2 373"/>
<path class="l" d="M810.6 384 L810.6 393.8"/>
<path class="l" d="M834.4 373.5 L834.4 382"/>
<path class="k" d="M43.900 527.300L51 512L53.800 513.800L78.500 506.600L81.200 519.600L57.800 529.500L60 534Z"/>
<g filter="url(#gs)"><text x="0" y="0" transform="translate(82.500 519) rotate(-21)" font-family="Liberation Sans" font-weight="bold" font-size="19" fill="#000" stroke="#000" stroke-width="0.9">FR</text></g>
<circle cx="108.800" cy="504.400" r="2.800" class="k"/>
<g filter="url(#gs)"><text x="1005" y="531" font-family="Liberation Sans" font-size="12.500" fill="#000">S0X4B0700F</text></g>
<path class="fw" d="M84.500 298L85.500 302L88.500 303.500L89.500 306L93.100 308L96.700 306L97.700 303.500L101.500 302L102 298Z"/>
<path class="k" d="M88.500 301.500L97.700 301.500L96.700 306L93.100 307.500L89.500 306Z"/>
<ellipse cx="93.100" cy="293" rx="10.300" ry="5" class="fw" stroke-width="1.500"/>
<path class="b" d="M83 294.500c2 4.500 18 4.500 20.500 0"/>
<path class="b2" d="M90 296L95 290M93 296.500L98 290.500"/>
<g transform="translate(127.400 303.500) rotate(-21)"><rect x="-5.500" y="-2.800" width="11" height="5.600" rx="1.500" class="fw"/><path class="b" d="M-3.300 -2.800c-1.500 1-1.500 4.600 0 5.600"/></g>
<g transform="translate(145 295.500) rotate(-22)"><path class="fw" stroke-width="1.500" d="M-8.500 0c0-2 2-2.500 4.500-2.800L4 -3.400c3-0.400 5 1 5 3.400s-2 3.800-5 3.400L-4 2.800c-2.500-0.300-4.500-0.800-4.500-2.800z"/><circle cx="4" cy="0" r="1.700" class="f"/><path class="b" d="M-7 0.500L0 0.500"/></g>
</svg>
</body></html>
